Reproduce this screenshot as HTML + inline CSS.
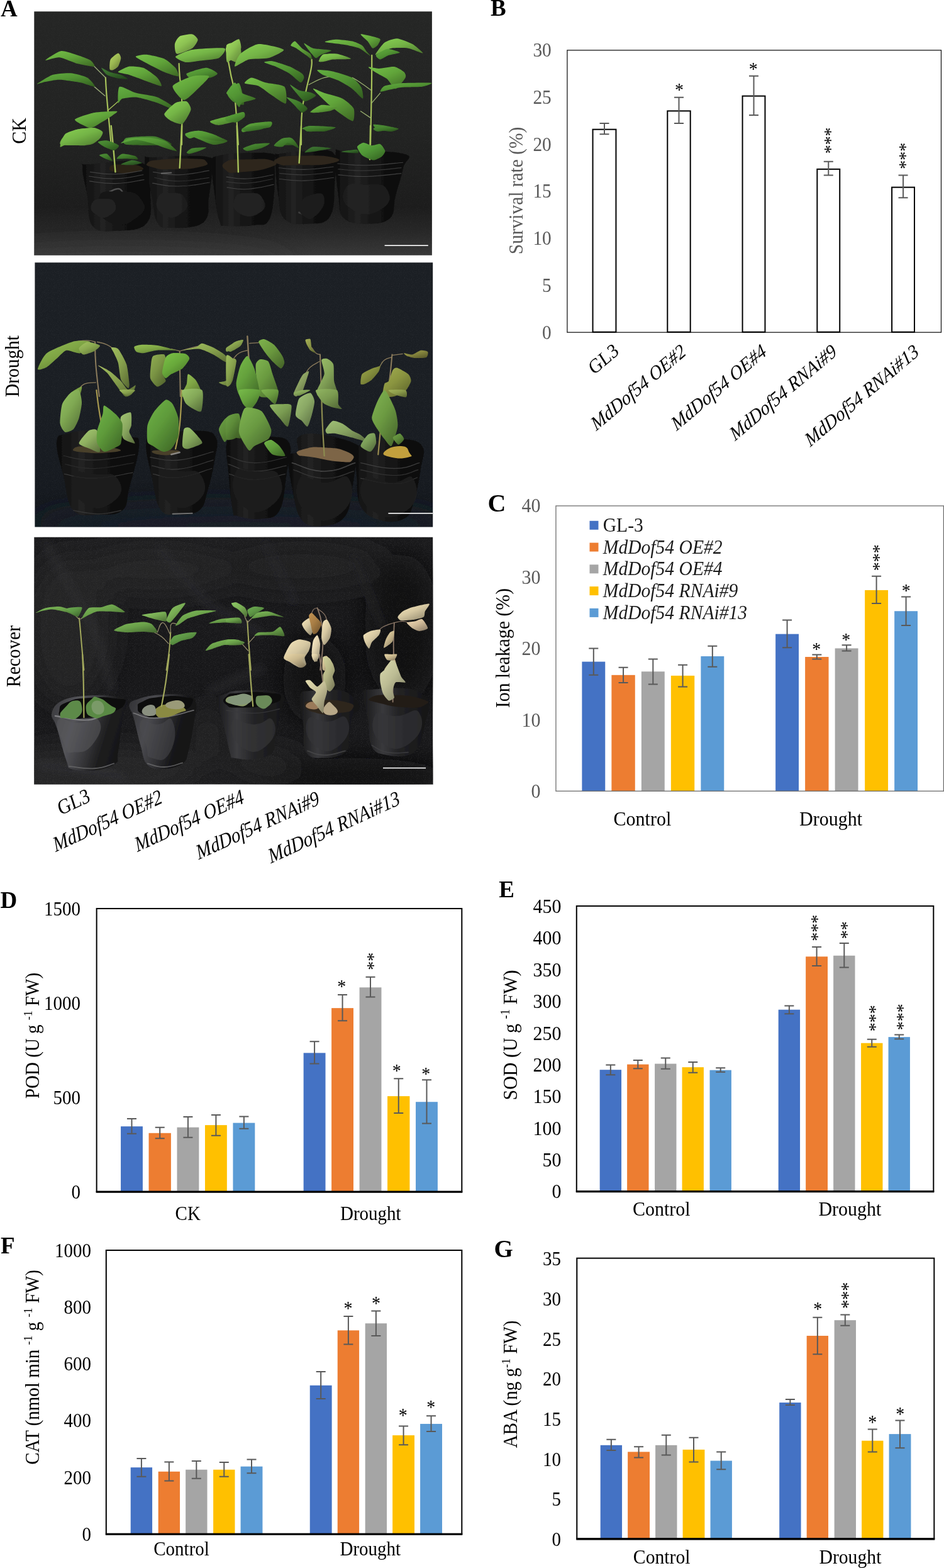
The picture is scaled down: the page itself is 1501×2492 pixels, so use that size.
<!DOCTYPE html>
<html lang="en"><head><meta charset="utf-8"><title>Figure</title>
<style>
html,body{margin:0;padding:0;background:#fff;}
body{width:1501px;height:2492px;overflow:hidden;font-family:"Liberation Serif",serif;}
svg{display:block;}
text{font-family:"Liberation Serif",serif;}
</style></head><body>
<svg width="1501" height="2492" viewBox="0 0 1501 2492">
<text transform="translate(1 26)" font-size="37" fill="#000" text-anchor="start" font-weight="bold">A</text>
<text transform="translate(780 24.8)" font-size="37" fill="#000" text-anchor="start" font-weight="bold">B</text>
<rect x="901.9" y="79.8" width="594.6" height="448.4" fill="#fff" stroke="#1a1a1a" stroke-width="1.3"/>
<rect x="942.54" y="205.68" width="36.91" height="322.02" fill="#fff" stroke="#000" stroke-width="2"/>
<rect x="1061.3" y="176.37" width="36.41" height="351.33" fill="#fff" stroke="#000" stroke-width="2"/>
<rect x="1180.57" y="152.61" width="35.9" height="375.09" fill="#fff" stroke="#000" stroke-width="2"/>
<rect x="1299.34" y="268.85" width="35.9" height="258.85" fill="#fff" stroke="#000" stroke-width="2"/>
<rect x="1418.1" y="297.66" width="35.9" height="230.04" fill="#fff" stroke="#000" stroke-width="2"/>
<path d="M961 196.09V213.27M953.5 196.09H968.5M953.5 213.27H968.5" stroke="#595959" stroke-width="2" fill="none"/>
<path d="M1079.51 154.65V196.09M1072.01 154.65H1087.01M1072.01 196.09H1087.01" stroke="#595959" stroke-width="2" fill="none"/>
<path d="M1198.53 120.79V182.95M1191.03 120.79H1206.03M1191.03 182.95H1206.03" stroke="#595959" stroke-width="2" fill="none"/>
<path d="M1317.29 256.73V278.47M1309.79 256.73H1324.79M1309.79 278.47H1324.79" stroke="#595959" stroke-width="2" fill="none"/>
<path d="M1436.06 278.47V314.35M1428.56 278.47H1443.56M1428.56 314.35H1443.56" stroke="#595959" stroke-width="2" fill="none"/>
<text transform="translate(876.8 90.2) scale(1 1.07)" font-size="29.4" fill="#595959" text-anchor="end">30</text>
<text transform="translate(876.8 164.93) scale(1 1.07)" font-size="29.4" fill="#595959" text-anchor="end">25</text>
<text transform="translate(876.8 239.66) scale(1 1.07)" font-size="29.4" fill="#595959" text-anchor="end">20</text>
<text transform="translate(876.8 314.39) scale(1 1.07)" font-size="29.4" fill="#595959" text-anchor="end">15</text>
<text transform="translate(876.8 389.12) scale(1 1.07)" font-size="29.4" fill="#595959" text-anchor="end">10</text>
<text transform="translate(876.8 463.85) scale(1 1.07)" font-size="29.4" fill="#595959" text-anchor="end">5</text>
<text transform="translate(876.8 538.58) scale(1 1.07)" font-size="29.4" fill="#595959" text-anchor="end">0</text>
<text transform="translate(1080.01 151.59) scale(1 1.07)" font-size="28" fill="#000" text-anchor="middle">*</text>
<text transform="translate(1197.77 119.25) scale(1 1.07)" font-size="28" fill="#000" text-anchor="middle">*</text>
<text transform="translate(1330.15 223.38) rotate(-90) scale(1 1.07)" font-size="28" fill="#000" text-anchor="middle">***</text>
<text transform="translate(1448.92 247.64) rotate(-90) scale(1 1.07)" font-size="28" fill="#000" text-anchor="middle">***</text>
<text transform="translate(831 303) rotate(-90) scale(1 1.07)" font-size="29.4" fill="#595959" text-anchor="middle">Survival rate (%)</text>
<text transform="translate(985.51 561.49) scale(1 1.15) rotate(-36.3)" font-size="28" fill="#000" text-anchor="end">GL3</text>
<text transform="translate(1092.65 563.01) scale(1 1.15) rotate(-36.3)" font-size="28" fill="#000" text-anchor="end"><tspan font-style="italic">MdDof54 OE#2</tspan></text>
<text transform="translate(1220.51 563.01) scale(1 1.15) rotate(-36.3)" font-size="28" fill="#000" text-anchor="end"><tspan font-style="italic">MdDof54 OE#4</tspan></text>
<text transform="translate(1332.2 563.01) scale(1 1.15) rotate(-36.3)" font-size="28" fill="#000" text-anchor="end"><tspan font-style="italic">MdDof54 RNAi#9</tspan></text>
<text transform="translate(1463.09 563.01) scale(1 1.15) rotate(-36.3)" font-size="28" fill="#000" text-anchor="end"><tspan font-style="italic">MdDof54 RNAi#13</tspan></text>
<text transform="translate(775.5 813)" font-size="40" fill="#000" text-anchor="start" font-weight="bold">C</text>
<rect x="925.37" y="1051.61" width="36.89" height="205.69" fill="#4472C4"/>
<rect x="972.37" y="1072.83" width="37.4" height="184.46" fill="#ED7D31"/>
<rect x="1019.87" y="1067.27" width="36.89" height="190.02" fill="#A5A5A5"/>
<rect x="1066.87" y="1073.84" width="37.4" height="183.45" fill="#FFC000"/>
<rect x="1114.38" y="1043.01" width="36.89" height="214.28" fill="#5B9BD5"/>
<rect x="1233.15" y="1007.64" width="36.89" height="249.66" fill="#4472C4"/>
<rect x="1280.15" y="1044.02" width="37.4" height="213.27" fill="#ED7D31"/>
<rect x="1327.65" y="1030.38" width="36.89" height="226.92" fill="#A5A5A5"/>
<rect x="1375.16" y="937.89" width="36.89" height="319.4" fill="#FFC000"/>
<rect x="1422.16" y="971.25" width="36.89" height="286.05" fill="#5B9BD5"/>
<rect x="883.93" y="803.97" width="616.47" height="453.33" fill="none" stroke="#6e6e6e" stroke-width="1.3"/>
<path d="M943.81 1030.38V1072.83M936.31 1030.38H951.31M936.31 1072.83H951.31" stroke="#595959" stroke-width="2" fill="none"/>
<path d="M991.07 1060.7V1084.96M983.57 1060.7H998.57M983.57 1084.96H998.57" stroke="#595959" stroke-width="2" fill="none"/>
<path d="M1038.32 1047.56V1087.49M1030.82 1047.56H1045.82M1030.82 1087.49H1045.82" stroke="#595959" stroke-width="2" fill="none"/>
<path d="M1085.57 1056.66V1091.53M1078.07 1056.66H1093.07M1078.07 1091.53H1093.07" stroke="#595959" stroke-width="2" fill="none"/>
<path d="M1132.83 1026.84V1059.69M1125.33 1026.84H1140.33M1125.33 1059.69H1140.33" stroke="#595959" stroke-width="2" fill="none"/>
<path d="M1251.59 985.4V1029.37M1244.09 985.4H1259.09M1244.09 1029.37H1259.09" stroke="#595959" stroke-width="2" fill="none"/>
<path d="M1298.85 1040.49V1047.56M1291.35 1040.49H1306.35M1291.35 1047.56H1306.35" stroke="#595959" stroke-width="2" fill="none"/>
<path d="M1346.1 1025.33V1034.42M1338.6 1025.33H1353.6M1338.6 1034.42H1353.6" stroke="#595959" stroke-width="2" fill="none"/>
<path d="M1393.6 915.66V959.12M1386.1 915.66H1401.1M1386.1 959.12H1401.1" stroke="#595959" stroke-width="2" fill="none"/>
<path d="M1440.6 948.51V993.99M1433.1 948.51H1448.1M1433.1 993.99H1448.1" stroke="#595959" stroke-width="2" fill="none"/>
<text transform="translate(859.5 814.49) scale(1 1.06)" font-size="30" fill="#595959" text-anchor="end">40</text>
<text transform="translate(859.5 928.21) scale(1 1.06)" font-size="30" fill="#595959" text-anchor="end">30</text>
<text transform="translate(859.5 1041.41) scale(1 1.06)" font-size="30" fill="#595959" text-anchor="end">20</text>
<text transform="translate(859.5 1154.62) scale(1 1.06)" font-size="30" fill="#595959" text-anchor="end">10</text>
<text transform="translate(859.5 1267.82) scale(1 1.06)" font-size="30" fill="#595959" text-anchor="end">0</text>
<text transform="translate(1298.34 1040.84) scale(1 1.06)" font-size="28" fill="#000" text-anchor="middle">*</text>
<text transform="translate(1345.34 1025.67) scale(1 1.06)" font-size="28" fill="#000" text-anchor="middle">*</text>
<text transform="translate(1406.84 886.35) rotate(-90) scale(1 1.06)" font-size="28" fill="#000" text-anchor="middle">***</text>
<text transform="translate(1440.86 948.35) scale(1 1.06)" font-size="28" fill="#000" text-anchor="middle">*</text>
<text transform="translate(809.5 1030) rotate(-90) scale(1 1.06)" font-size="29.8" fill="#000" text-anchor="middle">Ion leakage (%)</text>
<text transform="translate(1021.39 1312.38) scale(1 1.06)" font-size="30" fill="#000" text-anchor="middle">Control</text>
<text transform="translate(1321.08 1312.38) scale(1 1.06)" font-size="30" fill="#000" text-anchor="middle">Drought</text>
<rect x="937.5" y="827.8" width="14" height="14" fill="#4472C4"/>
<text transform="translate(958.72 844.8) scale(1 1.06)" font-size="29.6" fill="#1a1a1a" text-anchor="start">GL-3</text>
<rect x="937.5" y="862.57" width="14" height="14" fill="#ED7D31"/>
<text transform="translate(958.72 879.57) scale(1 1.06)" font-size="29.6" fill="#1a1a1a" text-anchor="start" font-style="italic">MdDof54 OE#2</text>
<rect x="937.5" y="897.34" width="14" height="14" fill="#A5A5A5"/>
<text transform="translate(958.72 914.34) scale(1 1.06)" font-size="29.6" fill="#1a1a1a" text-anchor="start" font-style="italic">MdDof54 OE#4</text>
<rect x="937.5" y="932.11" width="14" height="14" fill="#FFC000"/>
<text transform="translate(958.72 949.11) scale(1 1.06)" font-size="29.6" fill="#1a1a1a" text-anchor="start" font-style="italic">MdDof54 RNAi#9</text>
<rect x="937.5" y="966.88" width="14" height="14" fill="#5B9BD5"/>
<text transform="translate(958.72 983.88) scale(1 1.06)" font-size="29.6" fill="#1a1a1a" text-anchor="start" font-style="italic">MdDof54 RNAi#13</text>
<text transform="translate(0.5 1443)" font-size="37" fill="#000" text-anchor="start" font-weight="bold">D</text>
<rect x="192.05" y="1790.16" width="34.87" height="103.6" fill="#4472C4"/>
<rect x="236.52" y="1800.77" width="35.38" height="92.99" fill="#ED7D31"/>
<rect x="281.5" y="1791.67" width="34.87" height="102.09" fill="#A5A5A5"/>
<rect x="325.97" y="1788.13" width="34.87" height="105.62" fill="#FFC000"/>
<rect x="370.45" y="1784.6" width="34.87" height="109.16" fill="#5B9BD5"/>
<rect x="482.64" y="1673.41" width="34.87" height="220.35" fill="#4472C4"/>
<rect x="527.11" y="1602.15" width="34.87" height="291.61" fill="#ED7D31"/>
<rect x="571.59" y="1569.3" width="34.87" height="324.46" fill="#A5A5A5"/>
<rect x="616.06" y="1742.14" width="35.38" height="151.61" fill="#FFC000"/>
<rect x="661.04" y="1751.24" width="34.87" height="142.52" fill="#5B9BD5"/>
<rect x="153.64" y="1443.97" width="580.68" height="449.79" fill="none" stroke="#000" stroke-width="2"/>
<rect x="152.64" y="1892.76" width="582.68" height="3" fill="#000"/>
<path d="M209.48 1778.03V1801.78M201.98 1778.03H216.98M201.98 1801.78H216.98" stroke="#595959" stroke-width="2" fill="none"/>
<path d="M254.21 1791.67V1809.36M246.71 1791.67H261.71M246.71 1809.36H261.71" stroke="#595959" stroke-width="2" fill="none"/>
<path d="M298.93 1774.99V1807.84M291.43 1774.99H306.43M291.43 1807.84H306.43" stroke="#595959" stroke-width="2" fill="none"/>
<path d="M343.41 1771.96V1804.81M335.91 1771.96H350.91M335.91 1804.81H350.91" stroke="#595959" stroke-width="2" fill="none"/>
<path d="M387.88 1774.49V1793.69M380.38 1774.49H395.38M380.38 1793.69H395.38" stroke="#595959" stroke-width="2" fill="none"/>
<path d="M500.08 1655.22V1690.59M492.58 1655.22H507.58M492.58 1690.59H507.58" stroke="#595959" stroke-width="2" fill="none"/>
<path d="M544.55 1580.93V1622.37M537.05 1580.93H552.05M537.05 1622.37H552.05" stroke="#595959" stroke-width="2" fill="none"/>
<path d="M589.02 1552.63V1584.46M581.52 1552.63H596.52M581.52 1584.46H596.52" stroke="#595959" stroke-width="2" fill="none"/>
<path d="M633.75 1714.35V1768.93M626.25 1714.35H641.25M626.25 1768.93H641.25" stroke="#595959" stroke-width="2" fill="none"/>
<path d="M678.48 1716.37V1785.61M670.98 1716.37H685.98M670.98 1785.61H685.98" stroke="#595959" stroke-width="2" fill="none"/>
<text transform="translate(128 1454.88) scale(1 1.08)" font-size="29" fill="#000" text-anchor="end">1500</text>
<text transform="translate(128 1604.98) scale(1 1.08)" font-size="29" fill="#000" text-anchor="end">1000</text>
<text transform="translate(128 1755.08) scale(1 1.08)" font-size="29" fill="#000" text-anchor="end">500</text>
<text transform="translate(128 1904.67) scale(1 1.08)" font-size="29" fill="#000" text-anchor="end">0</text>
<text transform="translate(543.29 1577.06) scale(1 1.08)" font-size="28" fill="#000" text-anchor="middle">*</text>
<text transform="translate(603.09 1527.86) rotate(-90) scale(1 1.08)" font-size="28" fill="#000" text-anchor="middle">**</text>
<text transform="translate(630.72 1711.49) scale(1 1.08)" font-size="28" fill="#000" text-anchor="middle">*</text>
<text transform="translate(677.21 1715.53) scale(1 1.08)" font-size="28" fill="#000" text-anchor="middle">*</text>
<text transform="translate(62 1646) rotate(-90) scale(1 1.08)" font-size="29" fill="#000" text-anchor="middle">POD (U g <tspan font-size="17.98" dy="-10.44">-1</tspan><tspan dy="10.44"> FW)</tspan></text>
<text transform="translate(298.68 1939.24) scale(1 1.08)" font-size="29" fill="#000" text-anchor="middle">CK</text>
<text transform="translate(589.28 1939.24) scale(1 1.08)" font-size="29" fill="#000" text-anchor="middle">Drought</text>
<text transform="translate(793.3 1425.6)" font-size="37" fill="#000" text-anchor="start" font-weight="bold">E</text>
<rect x="953.67" y="1700.2" width="34.37" height="193.06" fill="#4472C4"/>
<rect x="997.13" y="1691.61" width="34.37" height="201.65" fill="#ED7D31"/>
<rect x="1041.1" y="1690.59" width="34.37" height="202.66" fill="#A5A5A5"/>
<rect x="1084.56" y="1696.15" width="34.37" height="197.1" fill="#FFC000"/>
<rect x="1128.53" y="1700.7" width="34.37" height="192.55" fill="#5B9BD5"/>
<rect x="1237.69" y="1604.68" width="34.37" height="288.57" fill="#4472C4"/>
<rect x="1281.16" y="1520.28" width="34.87" height="372.97" fill="#ED7D31"/>
<rect x="1325.13" y="1518.76" width="34.37" height="374.49" fill="#A5A5A5"/>
<rect x="1369.09" y="1657.74" width="34.37" height="235.51" fill="#FFC000"/>
<rect x="1412.56" y="1648.14" width="34.37" height="245.11" fill="#5B9BD5"/>
<rect x="916.78" y="1439.93" width="567.54" height="453.33" fill="none" stroke="#000" stroke-width="2"/>
<rect x="915.78" y="1892.25" width="569.54" height="3" fill="#000"/>
<path d="M970.85 1692.62V1708.28M963.35 1692.62H978.35M963.35 1708.28H978.35" stroke="#595959" stroke-width="2" fill="none"/>
<path d="M1014.31 1685.04V1698.18M1006.81 1685.04H1021.81M1006.81 1698.18H1021.81" stroke="#595959" stroke-width="2" fill="none"/>
<path d="M1058.28 1681.5V1698.68M1050.78 1681.5H1065.78M1050.78 1698.68H1065.78" stroke="#595959" stroke-width="2" fill="none"/>
<path d="M1101.75 1688.07V1704.75M1094.25 1688.07H1109.25M1094.25 1704.75H1109.25" stroke="#595959" stroke-width="2" fill="none"/>
<path d="M1145.71 1697.16V1703.73M1138.21 1697.16H1153.21M1138.21 1703.73H1153.21" stroke="#595959" stroke-width="2" fill="none"/>
<path d="M1254.88 1598.62V1611.25M1247.38 1598.62H1262.38M1247.38 1611.25H1262.38" stroke="#595959" stroke-width="2" fill="none"/>
<path d="M1298.59 1505.12V1534.94M1291.09 1505.12H1306.09M1291.09 1534.94H1306.09" stroke="#595959" stroke-width="2" fill="none"/>
<path d="M1342.31 1499.05V1537.46M1334.81 1499.05H1349.81M1334.81 1537.46H1349.81" stroke="#595959" stroke-width="2" fill="none"/>
<path d="M1386.28 1651.68V1663.81M1378.78 1651.68H1393.78M1378.78 1663.81H1393.78" stroke="#595959" stroke-width="2" fill="none"/>
<path d="M1429.74 1644.61V1651.18M1422.24 1644.61H1437.24M1422.24 1651.18H1437.24" stroke="#595959" stroke-width="2" fill="none"/>
<text transform="translate(892.4 1451.05) scale(1 1.07)" font-size="30" fill="#000" text-anchor="end">450</text>
<text transform="translate(892.4 1501.42) scale(1 1.07)" font-size="30" fill="#000" text-anchor="end">400</text>
<text transform="translate(892.4 1551.79) scale(1 1.07)" font-size="30" fill="#000" text-anchor="end">350</text>
<text transform="translate(892.4 1602.16) scale(1 1.07)" font-size="30" fill="#000" text-anchor="end">300</text>
<text transform="translate(892.4 1652.54) scale(1 1.07)" font-size="30" fill="#000" text-anchor="end">250</text>
<text transform="translate(892.4 1702.91) scale(1 1.07)" font-size="30" fill="#000" text-anchor="end">200</text>
<text transform="translate(892.4 1753.28) scale(1 1.07)" font-size="30" fill="#000" text-anchor="end">150</text>
<text transform="translate(892.4 1803.65) scale(1 1.07)" font-size="30" fill="#000" text-anchor="end">100</text>
<text transform="translate(892.4 1854.02) scale(1 1.07)" font-size="30" fill="#000" text-anchor="end">50</text>
<text transform="translate(892.4 1904.39) scale(1 1.07)" font-size="30" fill="#000" text-anchor="end">0</text>
<text transform="translate(1308.93 1474.8) rotate(-90) scale(1 1.07)" font-size="28" fill="#000" text-anchor="middle">***</text>
<text transform="translate(1356.43 1478.33) rotate(-90) scale(1 1.07)" font-size="28" fill="#000" text-anchor="middle">**</text>
<text transform="translate(1400.91 1618.33) rotate(-90) scale(1 1.07)" font-size="28" fill="#000" text-anchor="middle">***</text>
<text transform="translate(1444.88 1616.3) rotate(-90) scale(1 1.07)" font-size="28" fill="#000" text-anchor="middle">***</text>
<text transform="translate(822 1645) rotate(-90) scale(1 1.07)" font-size="30" fill="#000" text-anchor="middle">SOD (U g <tspan font-size="18.6" dy="-10.8">-1</tspan><tspan dy="10.8"> FW)</tspan></text>
<text transform="translate(1051.71 1931.66) scale(1 1.07)" font-size="30" fill="#000" text-anchor="middle">Control</text>
<text transform="translate(1351.4 1931.66) scale(1 1.07)" font-size="30" fill="#000" text-anchor="middle">Drought</text>
<text transform="translate(0.9 1992)" font-size="37" fill="#000" text-anchor="start" font-weight="bold">F</text>
<rect x="207.71" y="2332.18" width="34.37" height="105.62" fill="#4472C4"/>
<rect x="251.68" y="2338.75" width="34.37" height="99.05" fill="#ED7D31"/>
<rect x="295.14" y="2335.71" width="34.37" height="102.09" fill="#A5A5A5"/>
<rect x="339.11" y="2335.71" width="34.37" height="102.09" fill="#FFC000"/>
<rect x="382.57" y="2330.66" width="34.87" height="107.14" fill="#5B9BD5"/>
<rect x="492.75" y="2201.79" width="34.87" height="236.01" fill="#4472C4"/>
<rect x="536.72" y="2114.36" width="34.37" height="323.44" fill="#ED7D31"/>
<rect x="580.68" y="2103.24" width="34.37" height="334.56" fill="#A5A5A5"/>
<rect x="624.15" y="2281.13" width="34.87" height="156.67" fill="#FFC000"/>
<rect x="668.12" y="2262.94" width="34.87" height="174.86" fill="#5B9BD5"/>
<rect x="168.8" y="1987" width="565.52" height="450.8" fill="none" stroke="#000" stroke-width="2"/>
<rect x="167.8" y="2436.8" width="567.52" height="3" fill="#000"/>
<path d="M224.9 2318.03V2346.83M217.4 2318.03H232.4M217.4 2346.83H232.4" stroke="#595959" stroke-width="2" fill="none"/>
<path d="M268.86 2323.59V2353.4M261.36 2323.59H276.36M261.36 2353.4H276.36" stroke="#595959" stroke-width="2" fill="none"/>
<path d="M312.33 2322.07V2349.87M304.83 2322.07H319.83M304.83 2349.87H319.83" stroke="#595959" stroke-width="2" fill="none"/>
<path d="M356.29 2324.09V2346.83M348.79 2324.09H363.79M348.79 2346.83H363.79" stroke="#595959" stroke-width="2" fill="none"/>
<path d="M400.01 2319.54V2341.27M392.51 2319.54H407.51M392.51 2341.27H407.51" stroke="#595959" stroke-width="2" fill="none"/>
<path d="M510.18 2180.06V2223.01M502.68 2180.06H517.68M502.68 2223.01H517.68" stroke="#595959" stroke-width="2" fill="none"/>
<path d="M553.9 2092.12V2136.59M546.4 2092.12H561.4M546.4 2136.59H561.4" stroke="#595959" stroke-width="2" fill="none"/>
<path d="M597.87 2083.53V2122.95M590.37 2083.53H605.37M590.37 2122.95H605.37" stroke="#595959" stroke-width="2" fill="none"/>
<path d="M641.58 2266.48V2296.29M634.08 2266.48H649.08M634.08 2296.29H649.08" stroke="#595959" stroke-width="2" fill="none"/>
<path d="M685.55 2250.3V2275.07M678.05 2250.3H693.05M678.05 2275.07H693.05" stroke="#595959" stroke-width="2" fill="none"/>
<text transform="translate(145 1997.96) scale(1 1.09)" font-size="29" fill="#000" text-anchor="end">1000</text>
<text transform="translate(145 2088.12) scale(1 1.09)" font-size="29" fill="#000" text-anchor="end">800</text>
<text transform="translate(145 2178.28) scale(1 1.09)" font-size="29" fill="#000" text-anchor="end">600</text>
<text transform="translate(145 2268.44) scale(1 1.09)" font-size="29" fill="#000" text-anchor="end">400</text>
<text transform="translate(145 2358.6) scale(1 1.09)" font-size="29" fill="#000" text-anchor="end">200</text>
<text transform="translate(145 2448.76) scale(1 1.09)" font-size="29" fill="#000" text-anchor="end">0</text>
<text transform="translate(553.39 2089.83) scale(1 1.09)" font-size="28" fill="#000" text-anchor="middle">*</text>
<text transform="translate(597.87 2082.25) scale(1 1.09)" font-size="28" fill="#000" text-anchor="middle">*</text>
<text transform="translate(640.82 2260.15) scale(1 1.09)" font-size="28" fill="#000" text-anchor="middle">*</text>
<text transform="translate(685.3 2246.5) scale(1 1.09)" font-size="28" fill="#000" text-anchor="middle">*</text>
<text transform="translate(62 2173) rotate(-90) scale(1 1.09)" font-size="29" fill="#000" text-anchor="middle">CAT (nmol min <tspan font-size="17.98" dy="-10.44">-1</tspan><tspan dy="10.44"> g </tspan><tspan font-size="17.98" dy="-10.44">-1</tspan><tspan dy="10.44">  FW)</tspan></text>
<text transform="translate(288.57 2471.66) scale(1 1.09)" font-size="29" fill="#000" text-anchor="middle">Control</text>
<text transform="translate(588.77 2471.66) scale(1 1.09)" font-size="29" fill="#000" text-anchor="middle">Drought</text>
<text transform="translate(785.5 1998.3)" font-size="39" fill="#000" text-anchor="start" font-weight="bold">G</text>
<rect x="954.68" y="2296.8" width="34.37" height="148.58" fill="#4472C4"/>
<rect x="998.14" y="2307.41" width="34.87" height="137.97" fill="#ED7D31"/>
<rect x="1042.11" y="2296.8" width="34.37" height="148.58" fill="#A5A5A5"/>
<rect x="1085.57" y="2303.88" width="34.87" height="141.51" fill="#FFC000"/>
<rect x="1129.54" y="2321.56" width="34.37" height="123.82" fill="#5B9BD5"/>
<rect x="1239.21" y="2229.08" width="34.37" height="216.3" fill="#4472C4"/>
<rect x="1282.67" y="2122.95" width="34.37" height="322.43" fill="#ED7D31"/>
<rect x="1326.64" y="2098.18" width="34.37" height="347.2" fill="#A5A5A5"/>
<rect x="1370.1" y="2289.72" width="34.37" height="155.66" fill="#FFC000"/>
<rect x="1413.57" y="2279.11" width="34.87" height="166.27" fill="#5B9BD5"/>
<rect x="917.28" y="1999.64" width="568.05" height="445.75" fill="none" stroke="#000" stroke-width="2"/>
<rect x="916.28" y="2444.38" width="570.05" height="3.2" fill="#000"/>
<path d="M971.86 2287.7V2304.89M964.36 2287.7H979.36M964.36 2304.89H979.36" stroke="#595959" stroke-width="2" fill="none"/>
<path d="M1015.58 2299.33V2316.51M1008.08 2299.33H1023.08M1008.08 2316.51H1023.08" stroke="#595959" stroke-width="2" fill="none"/>
<path d="M1059.29 2280.63V2312.47M1051.79 2280.63H1066.79M1051.79 2312.47H1066.79" stroke="#595959" stroke-width="2" fill="none"/>
<path d="M1103.01 2284.67V2323.59M1095.51 2284.67H1110.51M1095.51 2323.59H1110.51" stroke="#595959" stroke-width="2" fill="none"/>
<path d="M1146.73 2307.41V2335.21M1139.23 2307.41H1154.23M1139.23 2335.21H1154.23" stroke="#595959" stroke-width="2" fill="none"/>
<path d="M1256.39 2224.02V2233.12M1248.89 2224.02H1263.89M1248.89 2233.12H1263.89" stroke="#595959" stroke-width="2" fill="none"/>
<path d="M1299.86 2093.64V2152.26M1292.36 2093.64H1307.36M1292.36 2152.26H1307.36" stroke="#595959" stroke-width="2" fill="none"/>
<path d="M1343.82 2089.59V2106.78M1336.32 2089.59H1351.32M1336.32 2106.78H1351.32" stroke="#595959" stroke-width="2" fill="none"/>
<path d="M1387.29 2271.53V2307.41M1379.79 2271.53H1394.79M1379.79 2307.41H1394.79" stroke="#595959" stroke-width="2" fill="none"/>
<path d="M1431 2257.38V2301.35M1423.5 2257.38H1438.5M1423.5 2301.35H1438.5" stroke="#595959" stroke-width="2" fill="none"/>
<text transform="translate(892 2011.4) scale(1 1.09)" font-size="29" fill="#000" text-anchor="end">35</text>
<text transform="translate(892 2075.08) scale(1 1.09)" font-size="29" fill="#000" text-anchor="end">30</text>
<text transform="translate(892 2138.75) scale(1 1.09)" font-size="29" fill="#000" text-anchor="end">25</text>
<text transform="translate(892 2202.43) scale(1 1.09)" font-size="29" fill="#000" text-anchor="end">20</text>
<text transform="translate(892 2266.11) scale(1 1.09)" font-size="29" fill="#000" text-anchor="end">15</text>
<text transform="translate(892 2329.79) scale(1 1.09)" font-size="29" fill="#000" text-anchor="end">10</text>
<text transform="translate(892 2393.47) scale(1 1.09)" font-size="29" fill="#000" text-anchor="end">5</text>
<text transform="translate(892 2457.15) scale(1 1.09)" font-size="29" fill="#000" text-anchor="end">0</text>
<text transform="translate(1300.36 2090.84) scale(1 1.09)" font-size="28" fill="#000" text-anchor="middle">*</text>
<text transform="translate(1359.23 2058.76) rotate(-90) scale(1 1.09)" font-size="28" fill="#000" text-anchor="middle">***</text>
<text transform="translate(1387.29 2270.76) scale(1 1.09)" font-size="28" fill="#000" text-anchor="middle">*</text>
<text transform="translate(1431.26 2258.12) scale(1 1.09)" font-size="28" fill="#000" text-anchor="middle">*</text>
<text transform="translate(822 2200) rotate(-90) scale(1 1.09)" font-size="29" fill="#000" text-anchor="middle">ABA (ng g<tspan font-size="17.98" dy="-10.44">-1</tspan><tspan dy="10.44"> FW)</tspan></text>
<text transform="translate(1052.22 2485.31) scale(1 1.09)" font-size="29.7" fill="#000" text-anchor="middle">Control</text>
<text transform="translate(1351.91 2485.31) scale(1 1.09)" font-size="29.7" fill="#000" text-anchor="middle">Drought</text>
<defs>
<filter id="soft" x="-2%" y="-2%" width="104%" height="104%"><feGaussianBlur stdDeviation="0.7"/></filter>
<filter id="soft2" filterUnits="userSpaceOnUse" x="-100" y="-100" width="1000" height="1600"><feGaussianBlur stdDeviation="22"/></filter>
<filter id="soft3" filterUnits="userSpaceOnUse" x="-100" y="-100" width="1000" height="1600"><feGaussianBlur stdDeviation="7"/></filter>
<filter id="grain" x="0" y="0" width="100%" height="100%"><feTurbulence type="fractalNoise" baseFrequency="0.9" numOctaves="2" seed="3" result="n"/><feColorMatrix in="n" type="matrix" values="0 0 0 0 1  0 0 0 0 1  0 0 0 0 1  0.9 0 0 0 -0.42"/></filter>
<clipPath id="cA"><rect x="54.3" y="18.2" width="632.6" height="387.6"/></clipPath>
<clipPath id="cB"><rect x="55.4" y="417.2" width="632.8" height="420.4"/></clipPath>
<clipPath id="cC"><rect x="54.3" y="853.8" width="633.9" height="392.8"/></clipPath>
<linearGradient id="gA" x1="0" y1="0" x2="0" y2="1"><stop offset="0" stop-color="#252625"/><stop offset="0.5" stop-color="#222322"/><stop offset="0.8" stop-color="#1c1c1c"/><stop offset="0.9" stop-color="#272727"/><stop offset="1" stop-color="#383838"/></linearGradient>
<linearGradient id="gB" x1="0" y1="0" x2="0" y2="1"><stop offset="0" stop-color="#1b1f24"/><stop offset="0.5" stop-color="#1a1e23"/><stop offset="1" stop-color="#14181e"/></linearGradient>
<linearGradient id="gC" x1="0" y1="0" x2="0" y2="1"><stop offset="0" stop-color="#1c1c1e"/><stop offset="0.55" stop-color="#171719"/><stop offset="1" stop-color="#1b1b1d"/></linearGradient>
</defs>
<g clip-path="url(#cA)">
<rect x="54" y="18" width="634" height="389" fill="url(#gA)"/>
<g filter="url(#soft)">
<g filter="url(#soft2)"><ellipse cx="200" cy="425" rx="260" ry="30" fill="#3c3c3c" opacity="0.5"/></g>
<rect x="54" y="18" width="634" height="389" filter="url(#grain)" opacity="0.10"/>
<path d="M131.17 266.71C132.05 256.7 124.05 262.49 143.4 261.15C162.74 259.82 208.77 250.03 227.9 260.04C247.02 270.05 238.13 292.06 239.01 311.19C239.9 330.31 242.57 344.54 232.34 355.66C222.11 366.78 204.77 365.89 187.87 366.78C170.97 367.67 157.63 371.23 147.84 360.11C138.06 348.99 142.28 329.86 138.95 311.19C135.61 292.51 130.28 276.72 131.17 266.71Z" fill="url(#g0)"/>
<path d="M230.12 255.59C231.01 243.36 226.12 251.37 245.69 250.03C265.25 248.7 309.73 245.59 327.96 248.92C346.2 252.26 335.97 254.26 336.86 266.71C337.75 279.16 335.08 293.84 332.41 311.19C329.74 328.53 335.52 343.21 323.52 353.44C311.51 363.66 287.05 362.33 272.37 362.33C257.69 362.33 256.36 363.66 250.13 353.44C243.91 343.21 245.24 330.75 241.24 311.19C237.24 291.62 229.23 267.82 230.12 255.59Z" fill="url(#g0)"/>
<path d="M336.65 257.82C337.99 247.36 337.54 250.7 346.66 247.81C355.77 244.92 364.89 244.03 382.24 243.36C399.58 242.7 422.49 241.58 433.38 244.47C444.28 247.36 436.27 244.47 436.72 257.82C437.16 271.16 437.61 292.51 435.61 311.19C433.6 329.86 432.94 341.87 426.71 351.21C420.48 360.55 417.82 356.33 404.47 357.88C391.13 359.44 371.12 360.33 360 358.99C348.88 357.66 352.88 363 348.88 351.21C344.88 339.43 342.43 318.75 339.99 300.07C337.54 281.39 335.32 268.27 336.65 257.82Z" fill="url(#g0)"/>
<path d="M437.83 251.15C438.27 237.8 433.38 246.7 444.5 244.47C455.62 242.25 476.08 240.03 493.42 240.03C510.77 240.03 523.44 234.69 531.23 244.47C539.01 254.26 533.67 268.93 532.34 288.95C531 308.96 533.23 331.2 524.55 344.54C515.88 357.88 503.21 354.77 488.97 355.66C474.74 356.55 462.74 357.88 453.4 348.99C444.06 340.09 445.39 330.75 442.28 311.19C439.16 291.62 437.38 264.49 437.83 251.15Z" fill="url(#g0)"/>
<path d="M533.45 244.47C535.67 230.24 527.22 240.03 549.01 240.03C570.81 240.03 623.95 239.14 642.41 244.47C660.87 249.81 643.97 253.37 641.3 266.71C638.63 280.05 633.29 295.17 629.07 311.19C624.84 327.2 629.51 337.87 620.17 346.76C610.83 355.66 597.05 355.66 582.37 355.66C567.69 355.66 555.69 355.66 546.79 346.76C537.9 337.87 540.56 331.64 537.9 311.19C535.23 290.73 531.23 258.71 533.45 244.47Z" fill="url(#g0)"/>
<path d="M234.57 258.93C239.24 254.93 239.9 255.37 261.25 253.37C282.6 251.37 285.71 251.26 305.73 252.26C325.74 253.26 324.63 252.7 327.96 256.7C331.3 260.71 333.52 261.93 316.84 265.6C300.17 269.27 293.72 268.6 272.37 268.93C251.02 269.27 257.03 269.71 245.69 266.71C234.35 263.71 229.9 262.93 234.57 258.93Z" fill="#2e261c"/>
<path d="M174.53 265.6C176.53 261.6 179.86 261.49 194.54 261.15C209.22 260.82 216.11 261.15 223.45 264.49C230.79 267.82 229.68 269.27 219 272.27C208.33 275.27 201.21 276.5 187.87 274.49C174.53 272.49 172.53 269.6 174.53 265.6Z" fill="#2a2318"/>
<path d="M360 256.7C370.01 251.37 371.34 253.7 393.36 253.37C415.37 253.04 423.38 251.59 433.38 255.59C443.39 259.6 442.05 261.37 426.71 266.71C411.37 272.05 402.25 272.05 382.24 273.38C362.22 274.72 366.67 276.16 360 271.16C353.33 266.16 349.99 262.04 360 256.7Z" fill="#2f261c"/>
<path d="M440.05 252.26C448.06 248.25 444.5 248.48 471.19 247.81C497.87 247.14 512.99 246.36 529 250.03C545.01 253.7 541.9 256.37 524.55 260.04C507.21 263.71 495.2 261.93 471.19 262.26C447.17 262.6 453.84 264.15 444.5 261.15C435.16 258.15 432.05 256.26 440.05 252.26Z" fill="#2e261c"/>
<path d="M143.4 273.38C153.4 274.22 162.85 277.27 183.42 276.72C203.99 276.16 215.11 272.55 225.67 271.16" fill="none" stroke="#4a4a4a" stroke-width="1.2" stroke-linecap="round" stroke-opacity="0.8"/>
<path d="M174.53 304.51C177.86 303.4 182.87 300.07 187.87 300.07C192.87 300.07 192.87 303.4 194.54 304.51" fill="none" stroke="#6a6a6a" stroke-width="2.5" stroke-linecap="round" stroke-opacity="0.7"/>
<path d="M243.46 273.38C253.47 274.49 261.25 278.39 283.49 277.83C305.73 277.27 320.18 272.83 332.41 271.16" fill="none" stroke="#4a4a4a" stroke-width="1.2" stroke-linecap="round" stroke-opacity="0.8"/>
<path d="M245.69 282.28C255.14 283.67 261.81 287.84 283.49 287.84C305.17 287.84 320.18 283.67 332.41 282.28" fill="none" stroke="#3a3a3a" stroke-width="1.2" stroke-linecap="round" stroke-opacity="0.8"/>
<path d="M256.8 275.61 L272.37 274.49" fill="none" stroke="#8a8a8a" stroke-width="2" stroke-linecap="round" stroke-opacity="0.6"/>
<path d="M360 288.95C368.34 289.5 375.01 292.28 393.36 291.17C411.7 290.06 423.38 286.17 433.38 284.5" fill="none" stroke="#3c3c3c" stroke-width="1.2" stroke-linecap="round" stroke-opacity="0.8"/>
<path d="M444.5 275.61C454.51 276.16 463.4 278.39 484.53 277.83C505.65 277.27 517.88 274.49 529 273.38" fill="none" stroke="#444" stroke-width="1.2" stroke-linecap="round" stroke-opacity="0.8"/>
<path d="M475.63 337.87C480.08 338.98 487.86 343.43 493.42 342.32C498.98 341.21 496.76 335.65 497.87 333.42" fill="none" stroke="#555" stroke-width="3" stroke-linecap="round" stroke-opacity="0.6"/>
<path d="M537.9 268.93C549.01 269.49 557.35 271.71 582.37 271.16C607.39 270.6 624.06 267.82 637.96 266.71" fill="none" stroke="#404040" stroke-width="1.2" stroke-linecap="round" stroke-opacity="0.8"/>
<path d="M477.86 324.53C481.86 313.85 486.53 311.63 497.87 308.96C509.21 306.29 514.33 305.63 515.66 315.63C516.99 325.64 511.66 333.64 502.32 342.32C492.98 350.99 491.87 349.88 484.53 344.54C477.19 339.2 473.85 335.2 477.86 324.53Z" fill="#1c1c1c"/>
<path d="M156.74 315.63C160.74 300.96 167.86 304.51 187.87 304.51C207.88 304.51 214.11 303.62 223.45 315.63C232.79 327.64 233.68 333.2 219 344.54C204.33 355.88 193.21 362.11 174.53 353.44C155.85 344.76 152.74 330.31 156.74 315.63Z" fill="#151515"/>
<path d="M141.17 280.05C151.73 281.05 161.74 284.61 183.42 284.06C205.1 283.5 216.78 279.39 227.9 277.83" fill="none" stroke="#555" stroke-width="1.1" stroke-linecap="round" stroke-opacity="0.7"/>
<path d="M142.28 287.84C152.57 288.78 161.74 292.17 183.42 291.62C205.1 291.06 217.61 287.11 229.01 285.61" fill="none" stroke="#555" stroke-width="1.1" stroke-linecap="round" stroke-opacity="0.7"/>
<path d="M242.35 291.17C252.64 292.39 260.7 296.34 283.49 296.06C306.28 295.79 321.01 291.56 333.52 290.06" fill="none" stroke="#555" stroke-width="1.1" stroke-linecap="round" stroke-opacity="0.7"/>
<path d="M360 281.17C368.34 281.89 374.73 284.89 393.36 284.06C411.98 283.22 424.21 279.39 434.49 277.83" fill="none" stroke="#555" stroke-width="1.1" stroke-linecap="round" stroke-opacity="0.7"/>
<path d="M361.11 297.84C369.17 298.51 374.84 301.62 393.36 300.51C411.87 299.4 424.71 295.17 435.16 293.4" fill="none" stroke="#555" stroke-width="1.1" stroke-linecap="round" stroke-opacity="0.7"/>
<path d="M443.39 266.71C453.67 267.38 462.85 269.82 484.53 269.38C506.21 268.93 518.72 266.04 530.11 264.93" fill="none" stroke="#555" stroke-width="1.1" stroke-linecap="round" stroke-opacity="0.7"/>
<path d="M444.06 284.5C454.17 285.17 462.85 287.73 484.53 287.17C506.21 286.61 519.22 283.5 530.78 282.28" fill="none" stroke="#555" stroke-width="1.1" stroke-linecap="round" stroke-opacity="0.7"/>
<path d="M536.78 260.04C548.18 260.71 556.41 263.15 582.37 262.71C608.33 262.26 626.07 259.37 640.63 258.26" fill="none" stroke="#555" stroke-width="1.1" stroke-linecap="round" stroke-opacity="0.7"/>
<path d="M537.9 277.83C549.01 278.5 557.35 281.05 582.37 280.5C607.39 279.94 624.06 276.83 637.96 275.61" fill="none" stroke="#555" stroke-width="1.1" stroke-linecap="round" stroke-opacity="0.7"/>
<path d="M145.62 324.53C148.95 316.52 154.29 315.63 165.63 315.63C176.97 315.63 180.75 316.52 183.42 324.53C186.09 332.53 183.2 336.98 174.53 342.32C165.86 347.65 163.19 347.65 154.51 342.32C145.84 336.98 142.28 332.53 145.62 324.53Z" fill="#262626" fill-opacity="0.8"/>
<path d="M250.13 315.63C253.47 304.96 259.03 306.74 272.37 306.74C285.71 306.74 289.27 306.29 294.61 315.63C299.94 324.97 300.17 329.86 290.16 337.87C280.15 345.88 273.26 348.99 261.25 342.32C249.24 335.65 246.8 326.31 250.13 315.63Z" fill="#232323" fill-opacity="0.8"/>
<path d="M373.34 315.63C377.34 305.63 382.24 306.74 395.58 306.74C408.92 306.74 412.48 306.29 417.82 315.63C423.15 324.97 424.04 330.53 413.37 337.87C402.7 345.21 394.25 346.76 382.24 340.09C370.23 333.42 369.34 325.64 373.34 315.63Z" fill="#242424" fill-opacity="0.8"/>
<path d="M549.01 300.07C555.69 288.06 562.36 292.73 582.37 293.4C602.38 294.06 609.05 290.28 615.73 302.29C622.4 314.3 621.29 324.08 604.61 333.42C587.93 342.76 576.81 343.43 560.13 333.42C543.46 323.42 542.34 312.07 549.01 300.07Z" fill="#222222" fill-opacity="0.8"/>
<path d="M167.86 123.41C168.13 128.41 168.13 131.75 168.97 143.42C169.8 155.1 169.25 148.48 171.19 170.11C173.14 191.73 175.36 214.97 176.75 229.92" fill="none" stroke="#a7c25a" stroke-width="2.2" stroke-linecap="round"/>
<path d="M176.75 200C177.59 208.34 178.42 215.01 180.09 233.36C181.75 251.7 182.59 263.38 183.42 273.38" fill="none" stroke="#a7c25a" stroke-width="2.4" stroke-linecap="round"/>
<path d="M167.86 123.41 L147.84 103.4" fill="none" stroke="#98a878" stroke-width="1.4" stroke-linecap="round"/>
<path d="M166.74 152.32 L150.07 137.86" fill="none" stroke="#98a878" stroke-width="1.4" stroke-linecap="round"/>
<path d="M171.19 175.67 L187.87 161.21" fill="none" stroke="#a7c25a" stroke-width="1.4" stroke-linecap="round"/>
<path d="M284.6 101.17C284.88 106.18 284.6 107.29 285.71 121.19C286.82 135.08 288.21 129.58 289.05 156.76C289.88 183.95 289.05 211.63 289.05 229.92" fill="none" stroke="#a7c25a" stroke-width="2.2" stroke-linecap="round"/>
<path d="M289.05 200C288.66 208.34 288.33 216.68 287.49 233.36C286.66 250.03 286.16 258.37 285.71 266.71" fill="none" stroke="#a7c25a" stroke-width="2.4" stroke-linecap="round"/>
<path d="M363.34 98.95C364.17 103.4 364.17 102.84 366.67 116.74C369.17 130.64 370.28 126.24 373.34 154.54C376.4 182.84 377.51 211.08 378.9 229.92" fill="none" stroke="#a7c25a" stroke-width="2.2" stroke-linecap="round"/>
<path d="M376.68 200C376.96 208.89 377.23 217.23 377.79 235.58C378.35 253.92 378.62 263.93 378.9 273.38" fill="none" stroke="#a7c25a" stroke-width="2.4" stroke-linecap="round"/>
<path d="M495.65 94.5C495.37 98.39 496.76 97.84 494.53 110.07C492.31 122.3 490.36 126.19 486.75 143.42C483.14 160.66 482.03 157.38 480.08 179C478.13 200.63 479.25 217.19 478.97 229.92" fill="none" stroke="#a7c25a" stroke-width="2.2" stroke-linecap="round"/>
<path d="M478.97 200C478.58 207.23 478.25 214.18 477.41 228.91C476.58 243.64 476.08 251.42 475.63 258.93" fill="none" stroke="#a7c25a" stroke-width="2.4" stroke-linecap="round"/>
<path d="M591.27 87.83C591.15 101.73 591.38 107.9 590.82 143.42C590.26 178.95 589.49 208.3 589.04 229.92" fill="none" stroke="#a7c25a" stroke-width="2.2" stroke-linecap="round"/>
<path d="M589.04 200C588.93 206.67 588.87 213.34 588.6 226.68C588.32 240.03 588.1 246.7 587.93 253.37" fill="none" stroke="#a7c25a" stroke-width="2.4" stroke-linecap="round"/>
<path d="M491.2 134.53C497.31 131.75 503.98 126.74 515.66 123.41C527.33 120.07 532.34 121.74 537.9 121.19" fill="none" stroke="#9ab070" stroke-width="1.3" stroke-linecap="round"/>
<path d="M591.27 163.44 L604.61 147.87" fill="none" stroke="#9ab070" stroke-width="1.3" stroke-linecap="round"/>
<path d="M590.15 143.42C585.43 140.09 578.76 135.08 571.25 130.08C563.75 125.08 562.91 125.08 560.13 123.41" fill="none" stroke="#9ab070" stroke-width="1.3" stroke-linecap="round"/>
<path d="M590.15 187.9 L573.48 176.78" fill="none" stroke="#9ab070" stroke-width="1.3" stroke-linecap="round"/>
<path d="M72.24 95.61C72.48 94.51 91.07 82.01 96.7 81.16C102.32 80.3 118.25 86.24 123.38 87.83C128.52 89.42 140.46 93.66 143.4 95.61C146.33 97.57 152.27 105.01 150.07 105.62C147.87 106.23 129.5 102.76 123.38 101.17C117.27 99.58 100.1 91.78 94.47 91.17C88.85 90.55 71.99 96.71 72.24 95.61Z" fill="url(#g1)"/>
<path d="M58.89 133.42C60.12 132.19 77.48 120.85 83.36 118.96C89.23 117.08 106.15 115.8 112.26 116.29C118.38 116.78 134.67 121.04 138.95 123.41C143.23 125.78 152.4 137.01 151.18 137.86C149.96 138.72 134.07 132.41 127.83 131.19C121.59 129.97 100.59 126.87 94.47 126.74C88.36 126.62 76.15 129.35 72.24 130.08C68.32 130.81 57.67 134.64 58.89 133.42Z" fill="url(#g2)"/>
<path d="M174.53 110.07C174.04 108.23 174.17 97.31 175.64 94.5C177.11 91.69 186.04 84.74 187.87 84.49C189.7 84.25 192.32 89.95 192.32 92.28C192.32 94.6 189.22 103.54 187.87 105.62C186.52 107.7 181.55 110.69 180.09 111.18C178.62 111.67 175.02 111.9 174.53 110.07Z" fill="url(#g3)"/>
<path d="M161.19 107.84C161.67 107.35 171.1 113.29 174.53 114.51C177.95 115.74 189.14 117.74 192.32 118.96C195.5 120.18 203.92 125.02 203.44 125.63C202.95 126.24 191.54 125.25 187.87 124.52C184.2 123.79 173.02 120.8 170.08 118.96C167.14 117.13 160.7 108.33 161.19 107.84Z" fill="url(#g4)"/>
<path d="M187.87 114.51C187.87 113.05 201.26 106.35 205.66 105.62C210.06 104.89 223 105.89 227.9 107.84C232.79 109.8 246.95 120.23 250.13 123.41C253.31 126.59 258.03 135.9 256.8 136.75C255.58 137.61 244.64 133.15 239.01 131.19C233.39 129.24 211.29 120.8 205.66 118.96C200.03 117.13 187.87 115.98 187.87 114.51Z" fill="url(#g1)"/>
<path d="M187.87 163.44C187.38 161.36 186.91 139.58 190.09 137.86C193.27 136.15 210.17 146.04 216.78 147.87C223.38 149.7 243.53 152.09 250.13 154.54C256.74 156.99 273.64 167.78 276.82 170.11C280 172.43 281.98 176.4 279.04 175.67C276.11 174.93 256.98 165.76 250.13 163.44C243.28 161.11 222.89 155.27 216.78 154.54C210.66 153.81 197.72 155.79 194.54 156.76C191.36 157.74 188.36 165.51 187.87 163.44Z" fill="url(#g2)"/>
<path d="M185.65 176.78C182.47 176.29 157.4 177.53 150.07 179C142.73 180.47 119.67 187.43 118.93 190.12C118.2 192.81 138.75 202.97 143.4 203.46C148.04 203.95 157.27 196.77 161.19 194.57C165.1 192.37 176.28 185.41 178.97 183.45C181.67 181.49 188.83 177.27 185.65 176.78Z" fill="url(#g1)"/>
<path d="M96.7 229.92C92.29 228.24 100.43 217.25 103.37 214.58C106.3 211.91 118.25 206.91 123.38 205.69C128.52 204.46 145.91 202.97 150.07 203.46C154.23 203.95 160.45 208.18 161.19 210.13C161.92 212.09 158.69 219.07 156.74 221.25C154.78 223.43 150 228.97 143.4 229.92C136.79 230.88 101.1 231.61 96.7 229.92Z" fill="url(#g5)"/>
<path d="M95.59 233.36C95.34 231.52 100.31 216.4 103.37 213.34C106.43 210.28 118.25 206.66 123.38 205.56C128.52 204.46 145.66 202.85 150.07 203.34C154.47 203.82 162.68 207.93 163.41 210.01C164.14 212.09 159.92 219.91 156.74 222.24C153.56 224.56 140.13 230.28 134.5 231.13C128.87 231.99 109.87 229.78 105.59 230.02C101.31 230.26 95.83 235.19 95.59 233.36Z" fill="url(#g5)"/>
<path d="M155.63 225.57C156.12 224.47 166.41 222.74 170.08 223.35C173.75 223.96 187.76 229.42 188.98 231.13C190.2 232.84 183.77 238.67 181.2 238.91C178.63 239.16 168.45 234.82 165.63 233.36C162.82 231.89 155.14 226.67 155.63 225.57Z" fill="url(#g6)"/>
<path d="M157.85 246.7C157.85 245.72 167.76 243.5 170.08 244.47C172.4 245.45 178.97 254.61 178.97 255.59C178.97 256.57 172.4 254.35 170.08 253.37C167.76 252.39 157.85 247.68 157.85 246.7Z" fill="url(#g6)"/>
<path d="M185.65 252.26C184.91 251.4 191.36 244.96 194.54 244.47C197.72 243.98 211.86 246.83 214.55 247.81C217.24 248.79 220.47 252.88 219 253.37C217.53 253.86 204.88 252.38 201.21 252.26C197.54 252.13 186.38 253.11 185.65 252.26Z" fill="url(#g6)"/>
<path d="M192.32 261.15C192.32 260.3 206.44 254.73 210.11 254.48C213.78 254.24 225.67 258.07 225.67 258.93C225.67 259.78 213.78 262.02 210.11 262.26C206.44 262.51 192.32 262.01 192.32 261.15Z" fill="url(#g4)"/>
<path d="M277.93 70.04C278.42 66.98 282.66 59.52 285.71 57.81C288.77 56.1 302.55 53.86 305.73 54.47C308.91 55.09 314.62 60.92 314.62 63.37C314.62 65.81 309.4 74.27 305.73 76.71C302.06 79.16 284.32 86.34 281.27 85.61C278.21 84.87 277.44 73.1 277.93 70.04Z" fill="url(#g7)"/>
<path d="M215.67 90.05C215.42 88.46 227.33 86.35 232.34 86.72C237.36 87.08 256.12 91.07 261.25 93.39C266.39 95.71 276.6 104.79 279.04 107.84C281.49 110.9 285.45 120.45 283.49 121.19C281.53 121.92 266.63 116.72 261.25 114.51C255.87 112.31 239.58 103.86 234.57 101.17C229.55 98.48 215.91 91.64 215.67 90.05Z" fill="url(#g1)"/>
<path d="M279.04 90.05C280.26 87.85 297.16 80.4 305.73 78.93C314.29 77.47 352.22 75.24 356.87 76.71C361.52 78.18 352.38 90.08 347.98 92.28C343.57 94.48 322.72 95.99 316.84 96.72C310.97 97.46 298.77 99.68 294.61 98.95C290.45 98.21 277.82 92.25 279.04 90.05Z" fill="url(#g5)"/>
<path d="M296.83 116.74C299.28 114.78 322.58 107.84 327.96 107.84C333.34 107.84 345.02 115.03 345.75 116.74C346.49 118.45 339.04 122.43 334.63 123.41C330.23 124.39 309.88 126.37 305.73 125.63C301.57 124.9 294.39 118.69 296.83 116.74Z" fill="url(#g2)"/>
<path d="M274.59 136.75C276.06 132.59 299.37 122.9 305.73 121.19C312.09 119.47 331.19 119.23 332.41 121.19C333.63 123.14 321.25 134.82 316.84 138.97C312.44 143.13 297.03 159.23 292.38 158.99C287.74 158.74 273.13 140.91 274.59 136.75Z" fill="url(#g1)"/>
<path d="M261.25 181.23C261.99 178.05 275.13 165.64 279.04 163.44C282.96 161.23 294.14 159.99 296.83 161.21C299.52 162.43 304.24 170.64 303.5 174.55C302.77 178.47 293.58 194.83 290.16 196.79C286.74 198.75 275.55 194.06 272.37 192.34C269.19 190.63 260.52 184.41 261.25 181.23Z" fill="url(#g5)"/>
<path d="M294.61 212.36C295.83 211.38 309.51 206.69 316.84 207.91C324.18 209.13 358.87 221.05 361.32 223.48C363.76 225.9 345.2 230.66 339.08 229.92C332.97 229.19 310.62 218.74 305.73 216.8C300.83 214.87 293.38 213.34 294.61 212.36Z" fill="url(#g2)"/>
<path d="M201.21 219.03C206.1 217.59 237.86 215.61 245.69 216.8C253.51 218 277.26 228.48 272.37 229.92C267.48 231.37 209.04 231.12 201.21 229.92C193.38 228.73 196.32 220.47 201.21 219.03Z" fill="url(#g6)"/>
<path d="M192.32 227.8C191.09 227.55 200.52 220.99 205.66 220.01C210.8 219.03 232.66 218.41 239.01 218.9C245.37 219.39 258.83 222.14 263.48 224.46C268.12 226.78 281.27 238.8 281.27 240.03C281.27 241.25 267.39 236.8 263.48 235.58C259.56 234.36 250.82 230.38 245.69 228.91C240.55 227.44 222.65 222.36 216.78 222.24C210.91 222.11 193.54 228.04 192.32 227.8Z" fill="url(#g2)"/>
<path d="M294.61 213.34C296.32 212 311.95 207.78 316.84 207.78C321.74 207.78 334.19 211.51 339.08 213.34C343.97 215.18 361.32 223.36 361.32 224.46C361.32 225.56 344.46 224.08 339.08 223.35C333.7 222.62 316.56 218.16 312.4 217.79C308.24 217.42 303.24 220.5 301.28 220.01C299.32 219.52 292.9 214.69 294.61 213.34Z" fill="url(#g2)"/>
<path d="M296.83 242.25C297.32 241.27 302.3 236.44 305.73 235.58C309.15 234.72 326.74 233.98 327.96 234.47C329.19 234.96 319.78 238.93 316.84 240.03C313.91 241.13 303.48 244.23 301.28 244.47C299.08 244.72 296.34 243.23 296.83 242.25Z" fill="url(#g6)"/>
<path d="M359.09 76.71C360.66 73.29 377.31 60.92 380 63.37C382.69 65.81 385.12 95.52 383.56 98.95C381.99 102.37 368.46 96.95 365.77 94.5C363.08 92.05 357.53 80.14 359.09 76.71Z" fill="url(#g7)"/>
<path d="M361.32 147.87C362.39 144.69 377.06 130.35 380 132.3C382.93 134.26 389.08 162.48 388 165.66C386.93 168.84 373.15 163.17 370.21 161.21C367.28 159.26 360.24 151.05 361.32 147.87Z" fill="url(#g2)"/>
<path d="M334.63 192.34C338.16 190.39 374.62 181.47 380 181.23C385.38 180.98 387.08 188.16 383.56 190.12C380.03 192.08 353.36 198.77 347.98 199.01C342.6 199.26 331.11 194.3 334.63 192.34Z" fill="url(#g1)"/>
<path d="M360 72.26C360.98 69.33 366.69 68.92 368.89 67.82C371.1 66.72 378.42 61.28 380.01 62.26C381.6 63.24 384.08 73.65 383.35 76.71C382.62 79.77 375.67 87.61 373.34 90.05C371.02 92.5 363.69 98.46 362.22 98.95C360.76 99.44 360.24 97.44 360 94.5C359.76 91.57 359.02 75.2 360 72.26Z" fill="url(#g7)"/>
<path d="M373.34 105.62C371.87 104.64 378.08 89.52 382.24 85.61C386.4 81.69 403.56 70.77 411.15 70.04C418.73 69.31 449.46 76.49 451.17 78.93C452.88 81.38 432.83 90.56 426.71 92.28C420.6 93.99 401.45 93.03 395.58 94.5C389.71 95.97 374.81 106.6 373.34 105.62Z" fill="url(#g5)"/>
<path d="M388.91 132.3C387.69 130.84 396.36 123.53 400.03 123.41C403.7 123.29 416.52 129.6 422.26 131.19C428.01 132.78 448.74 134.19 452.28 137.86C455.83 141.53 456.59 162.96 454.51 164.55C452.43 166.14 438.15 155.37 433.38 152.32C428.61 149.26 416.04 138.95 411.15 136.75C406.25 134.55 390.13 133.77 388.91 132.3Z" fill="url(#g1)"/>
<path d="M360 147.87C360.73 145.55 370.65 131.19 373.34 131.19C376.03 131.19 380.79 145.06 384.46 147.87C388.13 150.68 406.7 155.05 406.7 156.76C406.7 158.48 387.4 161.97 384.46 163.44C381.53 164.9 381.97 171.33 380.01 170.11C378.06 168.88 368.87 154.76 366.67 152.32C364.47 149.87 359.27 150.19 360 147.87Z" fill="url(#g2)"/>
<path d="M360 185.67C362.94 184.08 383.5 177.89 386.68 177.89C389.86 177.89 390.13 183.84 388.91 185.67C387.69 187.51 378.75 193.83 375.57 194.57C372.39 195.3 361.71 193.32 360 192.34C358.29 191.37 357.06 187.26 360 185.67Z" fill="url(#g2)"/>
<path d="M384.46 205.69C385.68 204.22 392.67 198.14 397.8 196.79C402.94 195.45 427.73 192.84 431.16 193.46C434.58 194.07 431.87 201.01 428.93 202.35C426 203.7 409.12 204.83 404.47 205.69C399.83 206.54 388.89 210.13 386.68 210.13C384.48 210.13 383.24 207.15 384.46 205.69Z" fill="url(#g2)"/>
<path d="M384.46 204.45C385.68 203.47 399.58 200.49 404.47 200C409.37 199.51 427.71 199.39 428.93 200C430.16 200.61 419.51 204.58 415.59 205.56C411.68 206.54 396.78 209.02 393.36 208.89C389.93 208.77 383.24 205.43 384.46 204.45Z" fill="url(#g6)"/>
<path d="M386.68 235.58C387.91 234.36 399.83 229.76 404.47 228.91C409.12 228.05 427.71 227.06 428.93 227.8C430.16 228.53 419.51 234.23 415.59 235.58C411.68 236.92 396.54 240.03 393.36 240.03C390.18 240.03 385.46 236.8 386.68 235.58Z" fill="url(#g6)"/>
<path d="M462.29 72.26C462.05 71.04 467 65.1 468.96 65.59C470.92 66.08 477.39 74.51 480.08 76.71C482.77 78.91 491.71 83.65 493.42 85.61C495.13 87.56 496.38 94.26 495.65 94.5C494.91 94.75 489.44 89.79 486.75 87.83C484.06 85.87 473.88 78.42 471.19 76.71C468.49 75 462.54 73.49 462.29 72.26Z" fill="url(#g1)"/>
<path d="M483.42 68.93C483.66 67.95 493.1 75.49 497.87 76.71C502.64 77.93 525.31 78.95 526.78 80.05C528.25 81.15 513.9 85.37 511.21 86.72C508.52 88.06 504.03 92.4 502.32 92.28C500.6 92.15 497.73 88.17 495.65 85.61C493.57 83.04 483.17 69.91 483.42 68.93Z" fill="url(#g2)"/>
<path d="M506.76 97.84C506.52 96.61 510.26 88.06 513.44 86.72C516.62 85.37 530.78 84.87 535.67 85.61C540.56 86.34 558.64 92.41 557.91 93.39C557.18 94.37 533.65 94.01 529 94.5C524.35 94.99 518.11 97.47 515.66 97.84C513.21 98.2 507.01 99.06 506.76 97.84Z" fill="url(#g5)"/>
<path d="M420.04 98.95C419.55 98.02 428.98 96.44 433.38 97.17C437.79 97.9 454.93 103.47 460.07 105.62C465.2 107.77 477.51 114.78 480.08 116.74C482.65 118.69 483.66 121.82 483.42 123.41C483.17 125 480.42 131.93 477.86 131.19C475.29 130.46 464.47 119.55 460.07 116.74C455.66 113.92 442.23 107.58 437.83 105.62C433.43 103.66 420.53 99.88 420.04 98.95Z" fill="url(#g2)"/>
<path d="M504.54 111.18C506.25 110.57 522.89 112.06 529 113.4C535.12 114.75 555.12 120.6 560.13 123.41C565.15 126.22 572.75 135.31 574.59 138.97C576.42 142.64 578.4 156.52 576.81 156.76C575.22 157.01 564.41 144.38 560.13 141.2C555.85 138.02 543.03 130.3 537.9 127.86C532.76 125.41 517.1 120.8 513.44 118.96C509.77 117.13 502.83 111.79 504.54 111.18Z" fill="url(#g2)"/>
<path d="M497.87 141.2C497.14 139.24 510.52 146.16 515.66 147.87C520.8 149.58 539.43 154.07 544.57 156.76C549.7 159.46 560.52 168.42 562.36 172.33C564.19 176.24 563.45 191.37 561.25 192.34C559.04 193.32 546.62 184.16 542.34 181.23C538.06 178.29 527.22 170.06 522.33 165.66C517.44 161.26 498.6 143.16 497.87 141.2Z" fill="url(#g1)"/>
<path d="M461.18 134.53C461.67 134.04 472.09 142.08 475.63 143.42C479.18 144.77 490.49 145.78 493.42 146.76C496.36 147.74 503.3 150.73 502.32 152.32C501.34 153.91 487.95 161.7 484.53 161.21C481.1 160.72 473.75 150.8 471.19 147.87C468.62 144.93 460.69 135.02 461.18 134.53Z" fill="url(#g6)"/>
<path d="M455.62 154.54C456.6 154.05 471.96 159.26 475.63 161.21C479.3 163.17 488.49 170.37 488.97 172.33C489.46 174.29 482.53 179.74 480.08 179C477.63 178.27 469.43 168.35 466.74 165.66C464.05 162.97 454.64 155.03 455.62 154.54Z" fill="url(#g6)"/>
<path d="M493.42 177.89C494.16 176.54 506.56 167.63 511.21 166.77C515.86 165.92 533.96 169.13 535.67 170.11C537.38 171.09 530.2 174.69 526.78 175.67C523.35 176.64 508.21 178.76 504.54 179C500.87 179.25 492.69 179.24 493.42 177.89Z" fill="url(#g1)"/>
<path d="M483.42 203.46C483.9 202.48 488.16 200.13 493.42 200.13C498.68 200.13 528.78 202.61 531.23 203.46C533.67 204.32 520.31 207.3 515.66 207.91C511.01 208.52 492.52 209.51 488.97 209.02C485.43 208.53 482.93 204.44 483.42 203.46Z" fill="url(#g6)"/>
<path d="M437.83 229.92C435.38 228.85 446.26 221.34 448.95 220.14C451.64 218.94 459.84 217.95 462.29 219.03C464.74 220.1 473.88 228.73 471.19 229.92C468.49 231.12 440.28 231 437.83 229.92Z" fill="url(#g6)"/>
<path d="M480.08 204.45C480.08 203.59 487.55 200.24 493.42 200C499.29 199.76 531 201.25 533.45 202.22C535.9 203.2 520.06 208.28 515.66 208.89C511.26 209.51 497.34 208.27 493.42 207.78C489.51 207.29 480.08 205.3 480.08 204.45Z" fill="url(#g6)"/>
<path d="M435.61 231.13C435.61 229.66 445.77 221.24 448.95 220.01C452.13 218.79 461.58 218.3 464.51 220.01C467.45 221.73 476.37 234.85 475.63 235.58C474.9 236.31 460.78 226.93 457.84 226.68C454.91 226.44 451.39 232.87 448.95 233.36C446.5 233.84 435.61 232.6 435.61 231.13Z" fill="url(#g6)"/>
<path d="M484.53 242.25C483.79 241.52 493.22 234.09 497.87 233.36C502.52 232.62 526.04 234.85 526.78 235.58C527.51 236.31 509.19 239.29 504.54 240.03C499.89 240.76 485.26 242.98 484.53 242.25Z" fill="url(#g4)"/>
<path d="M573.48 54.47C574.21 53.62 587.84 56.95 591.27 57.81C594.69 58.67 603.63 60.67 604.61 62.26C605.59 63.85 601.51 70.67 600.16 72.26C598.81 73.85 594.09 77.44 592.38 76.71C590.66 75.98 586.67 68.04 584.59 65.59C582.52 63.15 572.74 55.33 573.48 54.47Z" fill="url(#g1)"/>
<path d="M596.82 86.72C597.56 85.01 607.49 70.63 611.28 67.82C615.07 65 626.4 60.9 631.29 61.15C636.18 61.39 651.23 67.47 655.75 70.04C660.28 72.61 673.16 83.76 672.43 84.49C671.7 85.23 654.59 77.57 649.08 76.71C643.58 75.86 627.29 75.98 622.4 76.71C617.51 77.44 607.42 82.28 604.61 83.38C601.79 84.48 596.09 88.43 596.82 86.72Z" fill="url(#g5)"/>
<path d="M516.77 66.7C515.06 65.77 528.68 62.82 533.45 62.7C538.22 62.58 555.49 64.54 560.13 65.59C564.78 66.64 573.25 70.55 575.7 72.26C578.15 73.98 580.9 79.32 582.37 81.16C583.84 82.99 590.26 89.43 589.04 88.94C587.82 88.45 575.65 78.67 571.25 76.71C566.85 74.75 555.01 72.25 549.01 71.15C543.02 70.05 518.48 67.63 516.77 66.7Z" fill="url(#g1)"/>
<path d="M597.94 87.83C599.16 86 611.57 78.31 615.73 77.82C619.88 77.33 635.49 82.28 635.74 83.38C635.98 84.48 621.37 86.61 617.95 87.83C614.53 89.05 606.81 94.5 604.61 94.5C602.41 94.5 596.71 89.66 597.94 87.83Z" fill="url(#g2)"/>
<path d="M585.71 106.73C585.95 105.88 597.86 109.03 602.38 108.95C606.91 108.88 622.44 105.45 626.84 106.06C631.25 106.68 640.45 112.61 642.41 114.51C644.37 116.42 646.1 120.47 644.63 123.41C643.17 126.34 632.25 140.95 629.07 141.2C625.89 141.44 618.91 128.32 615.73 125.63C612.55 122.94 603.46 118.82 600.16 116.74C596.86 114.66 585.46 107.59 585.71 106.73Z" fill="url(#g1)"/>
<path d="M604.61 145.65C604.12 144.91 607.61 138.22 611.28 136.75C614.95 135.28 629.77 132.84 637.96 132.3C646.16 131.77 682.1 131.25 685.77 131.86C689.44 132.47 676.58 137.08 671.32 137.86C666.06 138.65 644.08 138.36 637.96 138.97C631.85 139.59 619.4 142.69 615.73 143.42C612.06 144.16 605.1 146.38 604.61 145.65Z" fill="url(#g2)"/>
<path d="M593.49 197.9C594.47 197.17 604.65 198.28 609.05 199.01C613.46 199.75 632.05 203.47 633.52 204.57C634.98 205.67 626.07 208.9 622.4 209.02C618.73 209.14 603.34 206.91 600.16 205.69C596.98 204.46 592.51 198.64 593.49 197.9Z" fill="url(#g6)"/>
<path d="M567.92 233.36C568.16 231.15 575.35 226.93 577.92 226.68C580.49 226.44 588.33 230.89 591.27 231.13C594.2 231.38 602.28 227.93 604.61 228.91C606.93 229.89 612.15 237.83 612.39 240.03C612.64 242.23 608.91 247.33 606.83 248.92C604.75 250.51 596.91 254.73 593.49 254.48C590.06 254.24 578.51 249.02 575.7 246.7C572.89 244.37 567.67 235.56 567.92 233.36Z" fill="url(#g8)"/>
<path d="M593.49 204.45C594.22 203.47 602.43 200 606.83 200C611.23 200 632.54 203.71 633.52 204.45C634.49 205.18 619.4 206.18 615.73 206.67C612.06 207.16 602.61 209.14 600.16 208.89C597.71 208.65 592.76 205.43 593.49 204.45Z" fill="url(#g6)"/>
<path d="M542.34 241.14C542.1 240.53 563.87 237.56 566.8 237.8C569.74 238.05 571.72 243 569.03 243.36C566.34 243.73 542.59 241.75 542.34 241.14Z" fill="url(#g4)"/>
</g>
<rect x="611.6" y="389.4" width="69.2" height="1.6" fill="#fff"/>
</g>
<g clip-path="url(#cB)">
<rect x="55" y="417" width="634" height="421" fill="url(#gB)"/>
<rect x="55" y="417" width="634" height="421" filter="url(#grain)" opacity="0.06"/>
<g filter="url(#soft)">
<g filter="url(#soft2)"><ellipse cx="380" cy="835" rx="330" ry="30" fill="#1c212a" opacity="0.8"/></g>
<rect x="55" y="417" width="634" height="421" filter="url(#grain)" opacity="0.10"/>
<path d="M90.03 702.28C91.36 688.49 95.81 692.49 107.82 688.93C119.82 685.38 130.5 683.6 150.07 684.49C169.64 685.38 191.43 688.93 205.66 693.38C219.89 697.83 221.23 690.27 221.23 706.72C221.23 723.18 211 754.76 205.66 775.66C200.32 796.56 204.33 802.79 194.54 811.24C184.76 819.69 172.3 817.91 156.74 817.91C141.17 817.91 127.83 823.25 116.71 811.24C105.59 799.23 106.48 779.66 101.15 757.87C95.81 736.08 88.69 716.06 90.03 702.28Z" fill="url(#g0)"/>
<path d="M232.34 704.5C234.12 691.16 233.23 695.16 250.13 691.16C267.03 687.16 298.17 683.6 316.84 684.49C335.52 685.38 338.64 686.27 343.53 695.61C348.42 704.95 343.97 714.29 341.31 731.19C338.64 748.09 335.08 764.1 330.19 780.11C325.29 796.12 326.63 803.68 316.84 811.24C307.06 818.8 293.72 818.35 281.27 817.91C268.81 817.46 262.59 821.02 254.58 809.01C246.58 797.01 245.69 778.77 241.24 757.87C236.79 736.97 230.56 717.84 232.34 704.5Z" fill="url(#g0)"/>
<path d="M361.11 701.17C364.89 689.6 369.12 697.16 382.24 695.61C395.36 694.05 411.15 691.6 426.71 693.38C442.28 695.16 454.29 692.49 460.07 704.5C465.85 716.51 458.73 732.07 455.62 753.42C452.51 774.77 452.51 797.01 444.5 811.24C436.5 825.47 428.93 822.8 415.59 824.58C402.25 826.36 386.91 822.8 377.79 820.13C368.67 817.46 372.9 824.58 370.01 811.24C367.12 797.9 365.11 775.44 363.34 753.42C361.56 731.41 357.33 712.73 361.11 701.17Z" fill="url(#g0)"/>
<path d="M458.95 726.74C460.73 715.17 470.07 724.51 473.41 717.84C476.74 711.17 467.18 698.72 475.63 693.38C484.08 688.05 496.54 688.05 515.66 691.16C534.78 694.27 561.02 700.94 571.25 708.95C581.48 716.95 569.03 717.84 566.8 731.19C564.58 744.53 563.69 757.87 560.13 775.66C556.58 793.45 557.91 808.13 549.01 820.13C540.12 832.14 529.45 834.37 515.66 835.7C501.87 837.03 490.31 838.81 480.08 826.8C469.85 814.8 468.74 795.67 464.51 775.66C460.29 755.65 457.18 738.3 458.95 726.74Z" fill="url(#g0)"/>
<path d="M564.58 717.84C567.69 708.06 567.69 708.5 582.37 704.5C597.05 700.5 620.17 696.94 637.96 697.83C655.75 698.72 665.09 699.61 671.32 708.95C677.55 718.29 671.76 726.74 669.09 744.53C666.43 762.32 663.31 781.89 657.98 797.9C652.64 813.91 653.08 818.8 642.41 824.58C631.74 830.36 618.39 830.81 604.61 826.8C590.82 822.8 581.04 819.24 573.48 804.57C565.92 789.89 568.58 770.77 566.8 753.42C565.03 736.08 561.47 727.63 564.58 717.84Z" fill="url(#g0)"/>
<path d="M473.41 722.29C469.41 718.29 471.85 716.73 484.53 713.4C497.2 710.06 495.65 709.84 515.66 711.17C535.67 712.51 537.9 711.84 551.24 717.84C564.58 723.85 564.14 726.52 560.13 731.19C556.13 735.86 556.58 734.74 537.9 733.41C519.22 732.07 517.22 730.07 497.87 726.74C478.52 723.4 477.41 726.29 473.41 722.29Z" fill="#7d6547"/>
<path d="M611.28 717.84C615.95 712.51 625.96 708.28 637.96 708.95C649.97 709.62 647.97 714.73 651.31 720.07C654.64 725.4 657.75 724.74 649.08 726.74C640.41 728.74 633.74 729.41 622.4 726.74C611.06 724.07 606.61 723.18 611.28 717.84Z" fill="#c2a03c"/>
<path d="M116.71 713.4C119.38 710.39 122.05 708.95 143.4 708.95C164.74 708.95 178.53 710.39 187.87 713.4C197.21 716.4 190.54 717.29 174.53 718.95C158.52 720.62 151.85 720.62 134.5 718.95C117.16 717.29 114.04 716.4 116.71 713.4Z" fill="#4a3f2c"/>
<path d="M241.24 717.84C241.24 715.51 250.13 715.62 263.48 715.62C276.82 715.62 285.71 715.51 285.71 717.84C285.71 720.18 276.82 723.4 263.48 723.4C250.13 723.4 241.24 720.18 241.24 717.84Z" fill="#4a3f2c"/>
<path d="M101.15 724.51C113.38 726.18 121.71 731.74 150.07 731.19C178.42 730.63 198.43 724.51 214.55 722.29" fill="none" stroke="#3a3a3a" stroke-width="1.2" stroke-linecap="round" stroke-opacity="0.8"/>
<path d="M103.37 737.86C115.04 739.52 122.83 745.08 150.07 744.53C177.31 743.97 196.76 737.86 212.33 735.63" fill="none" stroke="#2e2e2e" stroke-width="1.2" stroke-linecap="round" stroke-opacity="0.8"/>
<path d="M239.01 726.74C250.13 727.85 258.47 733.41 283.49 731.19C308.51 728.96 325.18 721.18 339.08 717.84" fill="none" stroke="#444" stroke-width="1.4" stroke-linecap="round" stroke-opacity="0.8"/>
<path d="M272.37 722.29 L285.71 718.95" fill="none" stroke="#aaa" stroke-width="2.5" stroke-linecap="round" stroke-opacity="0.7"/>
<path d="M274.59 816.8 L305.73 815.69" fill="none" stroke="#999" stroke-width="2" stroke-linecap="round" stroke-opacity="0.7"/>
<path d="M116.71 811.24C126.72 812.63 137.84 816.8 156.74 816.8C175.64 816.8 183.42 812.63 192.32 811.24" fill="none" stroke="#3a3a3a" stroke-width="1.5" stroke-linecap="round" stroke-opacity="0.8"/>
<path d="M362.22 724.51C372.79 727.29 381.13 735.08 404.47 735.63C427.82 736.19 442.83 728.96 455.62 726.74" fill="none" stroke="#3c3c3c" stroke-width="1.2" stroke-linecap="round" stroke-opacity="0.8"/>
<path d="M464.51 735.63C477.3 738.97 490.64 748.97 515.66 748.97C540.68 748.97 552.35 738.97 564.58 735.63" fill="none" stroke="#505050" stroke-width="1.6" stroke-linecap="round" stroke-opacity="0.8"/>
<path d="M466.74 746.75C478.97 750.09 491.75 759.54 515.66 760.09C539.56 760.65 550.68 751.75 562.36 748.97" fill="none" stroke="#3c3c3c" stroke-width="1.4" stroke-linecap="round" stroke-opacity="0.8"/>
<path d="M573.48 735.63C586.82 737.86 603.5 744.53 626.84 744.53C650.19 744.53 656.86 737.86 666.87 735.63" fill="none" stroke="#484848" stroke-width="1.4" stroke-linecap="round" stroke-opacity="0.8"/>
<path d="M573.48 746.75C586.82 748.97 604.05 755.65 626.84 755.65C649.64 755.65 655.2 748.97 664.65 746.75" fill="none" stroke="#383838" stroke-width="1.4" stroke-linecap="round" stroke-opacity="0.8"/>
<path d="M102.26 753.42C114.21 755.09 122.83 760.65 150.07 760.09C177.31 759.54 195.93 753.42 211.22 751.2" fill="none" stroke="#4a4a4a" stroke-width="1.2" stroke-linecap="round" stroke-opacity="0.7"/>
<path d="M241.24 740.08C251.8 741.47 259.03 747.86 283.49 745.64C307.95 743.42 325.18 734.8 339.08 731.19" fill="none" stroke="#4a4a4a" stroke-width="1.2" stroke-linecap="round" stroke-opacity="0.7"/>
<path d="M243.46 753.42C253.47 754.81 260.14 761.21 283.49 758.98C306.84 756.76 323.52 748.14 336.86 744.53" fill="none" stroke="#4a4a4a" stroke-width="1.2" stroke-linecap="round" stroke-opacity="0.7"/>
<path d="M363.34 737.86C373.62 740.64 381.51 748.42 404.47 748.97C427.43 749.53 442.5 742.3 455.17 740.08" fill="none" stroke="#4a4a4a" stroke-width="1.2" stroke-linecap="round" stroke-opacity="0.7"/>
<path d="M364.45 753.42C374.45 755.65 382.24 762.32 404.47 762.32C426.71 762.32 441.17 755.65 453.4 753.42" fill="none" stroke="#4a4a4a" stroke-width="1.2" stroke-linecap="round" stroke-opacity="0.7"/>
<path d="M573.48 760.09C586.82 762.32 604.33 769.27 626.84 768.99C649.36 768.71 654.36 761.48 663.54 758.98" fill="none" stroke="#4a4a4a" stroke-width="1.2" stroke-linecap="round" stroke-opacity="0.7"/>
<path d="M116.71 757.87C121.38 743.86 128.72 752.09 150.07 753.42C171.41 754.76 179.2 748.97 187.87 762.32C196.54 775.66 194.99 786.56 178.97 797.9C162.96 809.24 153.18 812.13 134.5 800.12C115.82 788.11 112.04 771.88 116.71 757.87Z" fill="#1f1f1f" fill-opacity="0.8"/>
<path d="M254.58 753.42C259.92 738.75 265.7 747.64 285.71 748.97C305.73 750.31 313.29 743.19 321.29 757.87C329.3 772.55 328.41 785.89 312.4 797.9C296.39 809.9 285.27 811.24 267.92 797.9C250.58 784.55 249.24 768.1 254.58 753.42Z" fill="#1f1f1f" fill-opacity="0.8"/>
<path d="M373.34 753.42C380.01 736.74 387.57 747.64 408.92 748.97C430.27 750.31 437.16 741.86 444.5 757.87C451.84 773.88 450.73 788.33 433.38 802.34C416.04 816.35 404.7 819.24 386.68 804.57C368.67 789.89 366.67 770.1 373.34 753.42Z" fill="#1e1e1e" fill-opacity="0.8"/>
<path d="M475.63 762.32C483.64 747.64 491.64 766.76 515.66 766.76C539.68 766.76 547.68 747.64 555.69 762.32C563.69 776.99 562.36 799.68 542.34 815.69C522.33 831.7 508.99 831.7 488.97 815.69C468.96 799.68 467.63 776.99 475.63 762.32Z" fill="#1e1e1e" fill-opacity="0.8"/>
<path d="M577.92 762.32C587.26 748.97 598.38 766.76 622.4 766.76C646.41 766.76 650.64 748.97 657.98 762.32C665.31 775.66 666.87 796.56 646.86 811.24C626.84 825.92 611.95 825.92 591.27 811.24C570.58 796.56 568.58 775.66 577.92 762.32Z" fill="#1e1e1e" fill-opacity="0.8"/>
<path d="M151.18 543.42C151.46 552.32 150.62 557.38 152.29 579C153.96 600.63 156.46 617.19 157.85 629.92" fill="none" stroke="#8c7c5c" stroke-width="2" stroke-linecap="round"/>
<path d="M153.4 620C154.24 626.67 154.79 633.34 156.74 646.68C158.68 660.03 160.07 666.7 161.19 673.37" fill="none" stroke="#a89a50" stroke-width="2.2" stroke-linecap="round"/>
<path d="M151.18 543.42C148.12 542.87 147.57 541.2 138.95 541.2C130.33 541.2 122.27 542.87 116.71 543.42" fill="none" stroke="#8c7c5c" stroke-width="1.3" stroke-linecap="round"/>
<path d="M154.51 543.42C158.41 544.53 162.85 544.53 170.08 547.87C177.31 551.21 180.09 554.54 183.42 556.76" fill="none" stroke="#8c7c5c" stroke-width="1.3" stroke-linecap="round"/>
<path d="M156.74 581.23 L170.08 587.9" fill="none" stroke="#8c7c5c" stroke-width="1.3" stroke-linecap="round"/>
<path d="M152.29 607.91C147.84 608.47 141.17 607.35 134.5 610.13C127.83 612.91 127.83 616.8 125.61 619.03" fill="none" stroke="#8c7c5c" stroke-width="1.3" stroke-linecap="round"/>
<path d="M285.71 558.99C285.82 567.33 285.88 574.61 286.16 592.34C286.44 610.08 286.66 620.53 286.82 629.92" fill="none" stroke="#8c7c5c" stroke-width="2" stroke-linecap="round"/>
<path d="M289.05 620C288.21 633.9 288.21 652.24 285.71 675.59C283.21 698.94 280.71 703.94 279.04 713.4" fill="none" stroke="#a89a50" stroke-width="2.2" stroke-linecap="round"/>
<path d="M285.71 557.88 L272.37 554.54" fill="none" stroke="#8c7c5c" stroke-width="1.3" stroke-linecap="round"/>
<path d="M286.82 557.88C291.55 556.49 297.11 554.54 305.73 552.32C314.34 550.09 317.4 549.82 321.29 548.98" fill="none" stroke="#8c7c5c" stroke-width="1.3" stroke-linecap="round"/>
<path d="M393.36 534.53C393.63 538.97 393.91 543.42 394.47 552.32C395.02 561.21 395.3 565.66 395.58 570.11" fill="none" stroke="#8c7c5c" stroke-width="2.4" stroke-linecap="round"/>
<path d="M393.36 556.76C390.02 557.88 385.57 557.88 380.01 561.21C374.45 564.55 373.34 567.88 371.12 570.11" fill="none" stroke="#8c7c5c" stroke-width="1.3" stroke-linecap="round"/>
<path d="M396.69 545.65 L411.15 544.53" fill="none" stroke="#8c7c5c" stroke-width="1.3" stroke-linecap="round"/>
<path d="M508.99 563.44C509.27 571.77 509.54 580.17 510.1 596.79C510.66 613.41 510.93 621.64 511.21 629.92" fill="none" stroke="#8c7c5c" stroke-width="2" stroke-linecap="round"/>
<path d="M511.21 620C511.49 631.12 511.21 638.35 512.32 664.47C513.44 690.6 514.83 709.5 515.66 724.51" fill="none" stroke="#8c8c50" stroke-width="2.2" stroke-linecap="round"/>
<path d="M508.99 563.44C507.32 562.88 505.65 563.99 502.32 561.21C498.98 558.43 497.31 554.54 495.65 552.32" fill="none" stroke="#8c7c5c" stroke-width="1.3" stroke-linecap="round"/>
<path d="M507.88 574.55C504.26 576.78 498.7 579 493.42 583.45C488.14 587.9 488.42 590.12 486.75 592.34" fill="none" stroke="#8c7c5c" stroke-width="1.3" stroke-linecap="round"/>
<path d="M623.51 563.44C622.68 571.77 622.12 580.17 620.17 596.79C618.23 613.41 616.84 621.64 615.73 629.92" fill="none" stroke="#8c7c5c" stroke-width="2" stroke-linecap="round"/>
<path d="M611.28 620C609.89 633.9 608.22 650.02 605.72 675.59C603.22 701.17 602.38 710.62 601.27 722.29" fill="none" stroke="#9a8c50" stroke-width="2.2" stroke-linecap="round"/>
<path d="M623.51 564.55 L640.19 562.32" fill="none" stroke="#8c7c5c" stroke-width="1.3" stroke-linecap="round"/>
<path d="M622.4 567.88C619.62 568.99 615.73 568.99 611.28 572.33C606.83 575.67 606.28 579 604.61 581.23" fill="none" stroke="#8c7c5c" stroke-width="1.3" stroke-linecap="round"/>
<path d="M60.01 586.78C60.01 584.34 68.22 566.06 74.46 561.21C80.7 556.37 109.13 544.71 116.71 542.76C124.29 540.8 142.17 541.39 143.4 543.42C144.62 545.45 131.99 559.74 127.83 561.21C123.67 562.68 109.75 555.79 105.59 556.76C101.43 557.74 93.45 567.17 90.03 570.11C86.6 573.04 77.76 581.61 74.46 583.45C71.16 585.28 60.01 589.23 60.01 586.78Z" fill="url(#g9)"/>
<path d="M125.61 553.43C126.34 551.23 135.28 543.91 138.95 543.42C142.62 542.93 157.74 547.39 158.96 548.98C160.18 550.57 153 556.29 150.07 557.88C147.13 559.47 134.97 563.92 132.28 563.44C129.59 562.95 124.87 555.63 125.61 553.43Z" fill="url(#g10)"/>
<path d="M176.75 552.32C177.48 551.58 185.18 551.61 187.87 554.54C190.56 557.48 199.26 572.89 201.21 579C203.17 585.12 205.41 605.98 205.66 610.13C205.9 614.29 204.9 617.54 203.44 616.8C201.97 616.07 194.03 607.87 192.32 603.46C190.6 599.06 189.09 581.43 187.87 576.78C186.65 572.13 182.42 563.9 181.2 561.21C179.98 558.52 176.02 553.05 176.75 552.32Z" fill="url(#g11)"/>
<path d="M156.74 581.23C157.23 580.98 170.61 587.43 174.53 590.12C178.44 592.81 189.14 602.51 192.32 605.69C195.5 608.87 200.87 618.29 203.44 619.03C206 619.76 214.93 611.62 215.67 612.36C216.4 613.09 211.94 623.77 210.11 625.7C208.27 627.63 201.92 631.64 198.99 629.92C196.05 628.21 186.6 614.27 183.42 610.13C180.24 606 173.02 595.52 170.08 592.34C167.14 589.16 156.25 581.47 156.74 581.23Z" fill="url(#g11)"/>
<path d="M107.82 629.92C106.84 628.97 114.27 622.94 116.71 621.25C119.16 619.56 129.07 613.63 130.05 614.58C131.03 615.53 128.05 628.24 125.61 629.92C123.16 631.61 108.79 630.88 107.82 629.92Z" fill="url(#g9)"/>
<path d="M95.59 673.37C95.1 668.48 97.09 647.62 98.92 642.24C100.76 636.86 109.33 626.89 112.26 624.45C115.2 622 123.65 618.29 125.61 620C127.56 621.71 130.05 635.12 130.05 640.01C130.05 644.91 127.07 659.83 125.61 664.47C124.14 669.12 119.16 679.82 116.71 682.26C114.27 684.71 105.69 687.69 103.37 686.71C101.05 685.73 96.08 678.26 95.59 673.37Z" fill="url(#g12)"/>
<path d="M125.61 704.5C125.36 701.32 137.99 686.69 141.17 684.49C144.35 682.29 152.56 680.82 154.51 684.49C156.47 688.16 160.18 714.66 158.96 717.84C157.74 721.02 147.06 714.86 143.4 713.4C139.73 711.93 125.85 707.68 125.61 704.5Z" fill="url(#g13)"/>
<path d="M192.32 662.25C194.03 659.32 206.05 654.11 207.88 655.58C209.72 657.05 209.24 672.17 208.99 675.59C208.75 679.02 205.05 683.53 205.66 686.71C206.27 689.89 215.53 703.28 214.55 704.5C213.58 705.72 199.21 700.28 196.76 697.83C194.32 695.38 192.81 686.18 192.32 682.26C191.83 678.35 190.6 665.19 192.32 662.25Z" fill="url(#g14)"/>
<path d="M154.51 684.49C155.49 679.35 162.19 662.21 163.41 657.8C164.63 653.4 163.43 644.46 165.63 644.46C167.83 644.46 180.24 654.62 183.42 657.8C186.6 660.98 193.56 668.23 194.54 673.37C195.52 678.51 193.54 700.34 192.32 704.5C191.09 708.66 186.36 709.7 183.42 711.17C180.49 712.64 168.81 718.58 165.63 717.84C162.45 717.11 155.74 708.17 154.51 704.5C153.29 700.83 153.54 689.62 154.51 684.49Z" fill="url(#g15)"/>
<path d="M190.09 620C191.32 619.02 213.09 619.02 214.55 620C216.02 620.98 206.13 628.89 203.44 628.89C200.74 628.89 188.87 620.98 190.09 620Z" fill="url(#g11)"/>
<path d="M213.44 551.21C214.42 549.98 221.64 548.11 225.67 547.87C229.71 547.63 245 548.25 250.13 548.98C255.27 549.72 268.95 553.68 272.37 554.54C275.79 555.4 283.71 556.52 281.27 556.76C278.82 557.01 256 556.28 250.13 556.76C244.26 557.25 231.57 560.97 227.9 561.21C224.23 561.46 218.37 560.09 216.78 558.99C215.19 557.89 212.46 552.43 213.44 551.21Z" fill="url(#g9)"/>
<path d="M290.16 556.76C289.67 556.4 308.97 552.43 312.4 551.21C315.82 549.98 318.36 545.52 321.29 545.65C324.23 545.77 335.17 550.36 339.08 552.32C343 554.27 353.69 560.74 356.87 563.44C360.05 566.13 367.99 575.55 367.99 576.78C367.99 578 360.05 576.02 356.87 574.55C353.69 573.09 343.48 565.64 339.08 563.44C334.68 561.23 322.23 555.27 316.84 554.54C311.46 553.81 290.65 557.13 290.16 556.76Z" fill="url(#g11)"/>
<path d="M243.46 565.66C245.79 563.95 259.05 562.21 261.25 563.44C263.45 564.66 263.72 573.35 263.48 576.78C263.23 580.2 259.03 591.39 259.03 594.57C259.03 597.75 264.45 603.48 263.48 605.69C262.5 607.89 252.82 615.07 250.13 614.58C247.44 614.09 240.12 605.15 239.01 601.24C237.91 597.32 239.64 582.92 240.13 579C240.62 575.09 241.14 567.37 243.46 565.66Z" fill="url(#g16)"/>
<path d="M257.92 592.34C257.92 588.67 261.64 571.31 263.48 567.88C265.31 564.46 271.17 561.82 274.59 561.21C278.02 560.6 291.67 561.35 294.61 562.32C297.54 563.3 301.77 567.54 301.28 570.11C300.79 572.68 293.34 582.98 290.16 585.67C286.98 588.36 275.31 592.86 272.37 594.57C269.44 596.28 265.07 601.48 263.48 601.24C261.89 600.99 257.92 596.01 257.92 592.34Z" fill="url(#g17)"/>
<path d="M289.05 629.92C286.36 627.75 295.73 614.02 296.83 610.13C297.93 606.24 297.34 595.06 299.05 594.57C300.77 594.08 309.95 601.8 312.4 605.69C314.84 609.58 323.86 627.26 321.29 629.92C318.72 632.59 291.74 632.1 289.05 629.92Z" fill="url(#g9)"/>
<path d="M234.57 702.28C233.59 698.61 233.34 680.97 234.57 675.59C235.79 670.21 242.51 657.76 245.69 653.36C248.87 648.95 260.3 636.79 263.48 635.57C266.66 634.34 272.39 639.06 274.59 642.24C276.8 645.42 282.51 658.85 283.49 664.47C284.47 670.1 284.71 688 283.49 693.38C282.27 698.76 275.06 710.7 272.37 713.4C269.68 716.09 262.21 718.33 259.03 717.84C255.85 717.35 246.15 710.66 243.46 708.95C240.77 707.24 235.55 705.95 234.57 702.28Z" fill="url(#g15)"/>
<path d="M290.16 620C293.1 617.8 317.99 616.33 321.29 620C324.59 623.67 321.89 650.18 320.18 653.36C318.47 656.54 308.54 650.38 305.73 648.91C302.91 647.44 296.32 643.19 294.61 640.01C292.9 636.83 287.22 622.2 290.16 620Z" fill="url(#g18)"/>
<path d="M292.38 682.26C293.61 679.08 298.83 678.82 301.28 680.04C303.72 681.26 312.42 690.69 314.62 693.38C316.82 696.07 323 702.3 321.29 704.5C319.58 706.7 302.48 712.91 299.05 713.4C295.63 713.88 290.89 712.37 290.16 708.95C289.43 705.52 291.16 685.44 292.38 682.26Z" fill="url(#g19)"/>
<path d="M360.21 552.32C362.26 550.36 377.43 541.69 380 541.2C382.57 540.71 385.61 545.91 383.56 547.87C381.5 549.83 363.89 558.5 361.32 558.99C358.75 559.48 358.15 554.27 360.21 552.32Z" fill="url(#g11)"/>
<path d="M347.98 607.91C347.73 606.81 359.12 606.89 361.32 603.46C363.52 600.04 366.77 580.45 367.99 576.78C369.21 573.11 371.58 570.35 372.44 570.11C373.29 569.86 376.02 570.89 375.77 574.55C375.53 578.22 371.56 599.18 370.21 603.46C368.87 607.74 365.99 612.98 363.54 613.47C361.1 613.96 348.22 609.01 347.98 607.91Z" fill="url(#g11)"/>
<path d="M347.98 682.26C348.22 678.11 355.57 667.16 359.09 664.47C362.62 661.78 377.31 654.38 380 657.8C382.69 661.23 385.12 691.69 383.56 695.61C381.99 699.52 368.7 692.65 365.77 693.38C362.83 694.12 358.83 703.5 356.87 702.28C354.91 701.05 347.73 686.42 347.98 682.26Z" fill="url(#g20)"/>
<path d="M360 554.54C360.73 552.83 370.41 545.01 373.34 543.42C376.28 541.83 385.71 539.35 386.68 540.09C387.66 540.82 384.44 548.01 382.24 550.09C380.04 552.17 369.12 558.5 366.67 558.99C364.23 559.48 359.27 556.25 360 554.54Z" fill="url(#g11)"/>
<path d="M411.15 543.42C410.9 540.98 417.35 538.49 420.04 538.97C422.73 539.46 432.43 544.93 435.61 547.87C438.79 550.8 447.11 562.48 448.95 565.66C450.78 568.84 452.53 574.58 452.28 576.78C452.04 578.98 448.8 585.92 446.72 585.67C444.65 585.43 436.07 577.24 433.38 574.55C430.69 571.86 424.71 564.64 422.26 561.21C419.82 557.79 411.39 545.87 411.15 543.42Z" fill="url(#g21)"/>
<path d="M360 565.66C361.22 561.01 369.41 569.13 371.12 570.11C372.83 571.09 375.81 572.11 375.57 574.55C375.32 577 369.87 588.43 368.89 592.34C367.92 596.26 367.65 607.93 366.67 610.13C365.69 612.33 360.73 617.25 360 612.36C359.27 607.46 358.78 570.31 360 565.66Z" fill="url(#g11)"/>
<path d="M406.7 579C407.31 575.7 411.17 571.71 413.37 571.22C415.57 570.73 424.51 571.99 426.71 574.55C428.91 577.12 431.67 589.43 433.38 594.57C435.09 599.7 441.79 617.36 442.28 621.25C442.77 625.14 441.01 628.97 437.83 629.92C434.65 630.88 416.67 633.08 413.37 629.92C410.07 626.77 408.54 606.84 407.81 601.24C407.08 595.64 406.09 582.3 406.7 579Z" fill="url(#g22)"/>
<path d="M375.57 610.13C375.57 604.78 380.28 586.12 382.24 581.23C384.19 576.33 390.91 565.17 393.36 565.66C395.8 566.15 402.39 579.8 404.47 585.67C406.55 591.54 411.77 614.16 412.26 619.03C412.75 623.9 412.22 628.73 408.92 629.92C405.62 631.12 385.91 632.1 382.24 629.92C378.57 627.75 375.57 615.49 375.57 610.13Z" fill="url(#g23)"/>
<path d="M415.59 620C417.3 618.53 439.83 617.55 442.28 620C444.72 622.45 439.54 640.77 437.83 642.24C436.12 643.7 429.16 635.79 426.71 633.34C424.27 630.9 413.88 621.47 415.59 620Z" fill="url(#g22)"/>
<path d="M380.01 620C382.95 617.55 410.19 618.04 413.37 620C416.55 621.96 410.63 634.37 408.92 637.79C407.21 641.21 400.25 650.64 397.8 651.13C395.36 651.62 388.64 645.66 386.68 642.24C384.73 638.81 377.08 622.45 380.01 620Z" fill="url(#g23)"/>
<path d="M428.93 644.46C429.18 642.01 442.93 642.24 446.72 642.24C450.52 642.24 462.18 640.55 463.4 644.46C464.63 648.37 459.92 675.61 457.84 677.82C455.76 680.02 447.68 668.14 444.5 664.47C441.32 660.8 428.69 646.91 428.93 644.46Z" fill="url(#g24)"/>
<path d="M360 664.47C361.71 660.07 373.36 656.58 375.57 657.8C377.77 659.03 380.01 671.43 380.01 675.59C380.01 679.75 377.77 693.16 375.57 695.61C373.36 698.05 361.71 701.25 360 697.83C358.29 694.41 358.29 668.88 360 664.47Z" fill="url(#g20)"/>
<path d="M380.01 686.71C379.28 679.37 384.99 652.58 388.91 648.91C392.82 645.24 410.95 649.69 415.59 653.36C420.24 657.02 429.94 677.37 431.16 682.26C432.38 687.16 429.65 694.89 426.71 697.83C423.78 700.76 407.9 706.99 404.47 708.95C401.05 710.91 398.27 718.07 395.58 715.62C392.89 713.17 380.75 694.05 380.01 686.71Z" fill="url(#g25)"/>
<path d="M420.04 704.5C419.8 701.93 428.47 698.45 431.16 698.94C433.85 699.43 442.05 706.14 444.5 708.95C446.95 711.76 454.62 723.05 453.4 724.51C452.17 725.98 437.05 724.49 433.38 722.29C429.71 720.09 420.28 707.07 420.04 704.5Z" fill="url(#g15)"/>
<path d="M485.64 540.09C486.25 539.11 492.32 537.63 493.42 538.97C494.52 540.32 494.67 549.87 495.65 552.32C496.62 554.76 502.56 560.72 502.32 561.21C502.07 561.7 495.01 558.23 493.42 556.76C491.83 555.3 488.72 549.7 487.86 547.87C487.01 546.04 485.03 541.07 485.64 540.09Z" fill="url(#g26)"/>
<path d="M466.74 625.7C467.23 623.03 473.92 609.11 475.63 605.69C477.34 602.26 480.59 596.28 482.3 594.57C484.02 592.86 490.71 588.9 491.2 590.12C491.69 591.34 487.97 602.02 486.75 605.69C485.53 609.36 481.79 620.81 480.08 623.48C478.37 626.14 472.65 629.68 471.19 629.92C469.72 630.17 466.25 628.37 466.74 625.7Z" fill="url(#g27)"/>
<path d="M511.21 572.33C511.7 569.64 518.03 569.37 520.11 570.11C522.19 570.84 528.89 575.09 530.11 579C531.34 582.92 530.49 600.08 531.23 605.69C531.96 611.29 539.48 627.26 536.78 629.92C534.09 632.59 510.31 631.12 506.76 629.92C503.22 628.73 503.56 622.92 504.54 619.03C505.52 615.14 514.93 599.7 515.66 594.57C516.39 589.43 510.72 575.02 511.21 572.33Z" fill="url(#g28)"/>
<path d="M470.07 660.03C469.58 656.11 473.06 637.26 475.63 633.34C478.2 629.43 490.73 623.96 493.42 624.45C496.11 624.94 499.85 633.88 500.09 637.79C500.34 641.7 496.87 655.62 495.65 660.03C494.42 664.43 490.69 676.84 488.97 677.82C487.26 678.79 482.16 670.88 480.08 668.92C478 666.96 470.56 663.94 470.07 660.03Z" fill="url(#g29)"/>
<path d="M502.32 620C504.76 617.8 531.76 617.55 535.67 620C539.59 622.45 537.04 638.93 537.9 642.24C538.75 645.54 544.68 649.53 543.46 650.02C542.23 650.51 530.08 647.79 526.78 646.68C523.48 645.58 516.13 642.95 513.44 640.01C510.74 637.08 499.87 622.2 502.32 620Z" fill="url(#g30)"/>
<path d="M517.88 682.26C518.86 680.06 526.07 669.9 529 668.92C531.94 667.94 541.14 671.66 544.57 673.37C547.99 675.08 556.95 682.53 560.13 684.49C563.31 686.44 570.78 689.2 573.48 691.16C576.17 693.12 586.06 701.79 584.59 702.28C583.13 702.77 565.76 697.07 560.13 695.61C554.51 694.14 537.85 689.67 533.45 688.93C529.05 688.2 521.82 689.67 520.11 688.93C518.39 688.2 516.9 684.47 517.88 682.26Z" fill="url(#g31)"/>
<path d="M466.74 624.45C467.23 623.47 477.14 620.49 480.08 620C483.02 619.51 493.91 619.02 493.42 620C492.93 620.98 478.57 628.41 475.63 628.89C472.7 629.38 466.25 625.43 466.74 624.45Z" fill="url(#g28)"/>
<path d="M642.41 561.21C643.39 560.97 652.82 563.92 655.75 563.44C658.69 562.95 666.4 557.25 669.09 556.76C671.79 556.28 679.24 557.77 680.21 558.99C681.19 560.21 680.19 566.78 677.99 567.88C675.79 568.98 663.62 569.24 660.2 568.99C656.78 568.75 648.81 566.52 646.86 565.66C644.9 564.8 641.43 561.46 642.41 561.21Z" fill="url(#g32)"/>
<path d="M573.48 610.13C572.99 608.42 573.74 597.26 575.7 594.57C577.66 591.88 588.09 587.14 591.27 585.67C594.45 584.21 602.9 582.45 604.61 581.23C606.32 580 607.08 573.58 606.83 574.55C606.59 575.53 604.1 586.94 602.38 590.12C600.67 593.3 593.71 601.26 591.27 603.46C588.82 605.66 582.1 609.4 580.15 610.13C578.19 610.87 573.96 611.85 573.48 610.13Z" fill="url(#g33)"/>
<path d="M617.95 605.69C619.42 603.24 623.15 590.22 624.62 587.9C626.09 585.57 628.6 583.83 631.29 584.56C633.98 585.29 646.64 592.24 649.08 594.57C651.53 596.89 654.02 602.75 653.53 605.69C653.04 608.62 647.57 618.59 644.63 621.25C641.7 623.92 630.76 628.97 626.84 629.92C622.93 630.88 610.77 632.1 609.05 629.92C607.34 627.75 610.3 612.8 611.28 610.13C612.26 607.47 616.48 608.13 617.95 605.69Z" fill="url(#g34)"/>
<path d="M591.27 664.47C591.27 659.58 597.96 642.68 600.16 637.79C602.36 632.9 609.08 620.49 611.28 620C613.48 619.51 618.22 629.67 620.17 633.34C622.13 637.01 627.72 648.46 629.07 653.36C630.41 658.25 633.14 671.7 632.4 677.82C631.67 683.93 624.72 706.75 622.4 708.95C620.07 711.15 613.72 700.76 611.28 697.83C608.83 694.89 602.36 685.93 600.16 682.26C597.96 678.59 591.27 669.37 591.27 664.47Z" fill="url(#g35)"/>
<path d="M617.95 620C619.91 619.27 641.58 618.78 644.63 620C647.69 621.22 647.7 630.38 645.75 631.12C643.79 631.85 629.9 627.89 626.84 626.67C623.79 625.45 615.99 620.73 617.95 620Z" fill="url(#g36)"/>
<path d="M573.48 708.95C572.99 706.01 582.15 693.36 584.59 691.16C587.04 688.96 594.25 687.47 595.71 688.93C597.18 690.4 598.67 701.32 597.94 704.5C597.2 707.68 591.73 717.35 589.04 717.84C586.35 718.33 573.96 711.88 573.48 708.95Z" fill="url(#g37)"/>
<path d="M624.62 695.61C624.87 693.65 633.78 688.69 635.74 688.93C637.7 689.18 642.66 695.87 642.41 697.83C642.17 699.79 635.47 706.97 633.52 706.72C631.56 706.48 624.38 697.56 624.62 695.61Z" fill="url(#g38)"/>
</g>
<rect x="617.4" y="815" width="71" height="1.6" fill="#fff"/>
</g>
<g clip-path="url(#cC)">
<rect x="54" y="853" width="635" height="394" fill="url(#gC)"/>
<rect x="54" y="853" width="635" height="394" filter="url(#grain)" opacity="0.10"/>
<g filter="url(#soft)">
<g filter="url(#soft2)"><ellipse cx="150" cy="1225" rx="170" ry="35" fill="#2e2e30" opacity="0.7"/><ellipse cx="330" cy="1170" rx="40" ry="50" fill="#262628" opacity="0.6"/><ellipse cx="110" cy="1000" rx="70" ry="120" fill="#262629" opacity="0.7"/><ellipse cx="250" cy="905" rx="120" ry="40" fill="#27272a" opacity="0.7"/><ellipse cx="480" cy="900" rx="130" ry="40" fill="#222225" opacity="0.7"/><ellipse cx="640" cy="1000" rx="60" ry="120" fill="#0d0d0f" opacity="0.8"/><ellipse cx="500" cy="1080" rx="50" ry="70" fill="#0d0d0f" opacity="0.8"/><ellipse cx="560" cy="1235" rx="160" ry="30" fill="#0c0c0e" opacity="0.9"/><ellipse cx="420" cy="1215" rx="60" ry="25" fill="#262628" opacity="0.8"/></g>
<g filter="url(#soft3)" opacity="0.55"><path d="M70 860 L150 1000 L180 1100" stroke="#343438" stroke-width="10" fill="none"/><path d="M250 870 L330 960 L420 1010" stroke="#2e2e32" stroke-width="12" fill="none"/><path d="M420 860 L470 960" stroke="#2c2c30" stroke-width="10" fill="none"/><path d="M560 880 L610 1000" stroke="#26262a" stroke-width="10" fill="none"/><path d="M60 1215 L200 1235" stroke="#38383c" stroke-width="10" fill="none"/><path d="M330 1100 L420 1060" stroke="#343438" stroke-width="10" fill="none"/></g>
<rect x="54" y="853" width="635" height="394" filter="url(#grain)" opacity="0.16"/>
<path d="M82.24 1133.4C84.02 1124.95 87.58 1118.94 98.92 1113.38C110.26 1107.82 122.05 1106.93 138.95 1105.6C155.85 1104.27 170.52 1104.71 183.42 1106.71C196.32 1108.71 200.77 1110.27 203.44 1115.61C206.1 1120.94 199.88 1117.38 196.76 1133.4C193.65 1149.41 190.54 1179.65 187.87 1195.66C185.2 1211.67 190.98 1207.67 183.42 1213.45C175.86 1219.23 163.85 1222.79 150.07 1224.57C136.28 1226.35 123.38 1225.46 114.49 1222.34C105.59 1219.23 110.48 1222.34 105.59 1209C100.7 1195.66 94.7 1170.75 90.03 1155.63C85.36 1140.51 80.46 1141.85 82.24 1133.4Z" fill="url(#g39)"/>
<path d="M205.66 1120.05C206.99 1114.27 210.11 1114.27 219 1111.16C227.9 1108.05 235.01 1105.82 250.13 1104.49C265.25 1103.15 282.38 1102.26 294.61 1104.49C306.84 1106.71 308.62 1106.27 311.29 1115.61C313.95 1124.95 310.4 1135.17 307.95 1151.19C305.5 1167.2 302.61 1183.21 299.05 1195.66C295.5 1208.11 297.72 1208.11 290.16 1213.45C282.6 1218.79 272.37 1221.9 261.25 1222.34C250.13 1222.79 242.13 1223.23 234.57 1215.67C227.01 1208.11 227.9 1199.66 223.45 1184.54C219 1169.42 215.89 1152.96 212.33 1140.07C208.77 1127.17 204.33 1125.84 205.66 1120.05Z" fill="url(#g40)"/>
<path d="M344.43 1111.16C346.66 1105.82 353.33 1104.93 360 1102.26C366.67 1099.6 364.45 1098.71 377.79 1097.82C391.13 1096.93 412.03 1096.04 426.71 1097.82C441.39 1099.6 447.17 1100.48 451.17 1106.71C455.17 1112.94 449.39 1115.61 446.72 1128.95C444.06 1142.29 440.5 1160.08 437.83 1173.42C435.16 1186.76 440.05 1188.99 433.38 1195.66C426.71 1202.33 416.93 1205 404.47 1206.78C392.02 1208.56 378.68 1205.89 371.12 1204.55C363.56 1203.22 369.34 1208.56 366.67 1200.11C364 1191.66 361.33 1176.54 357.78 1162.3C354.22 1148.07 351.55 1139.18 348.88 1128.95C346.21 1118.72 342.21 1116.5 344.43 1111.16Z" fill="url(#g41)"/>
<path d="M476.74 1106.71C478.97 1096.04 481.19 1099.82 493.42 1097.82C505.65 1095.81 524.55 1094.93 537.9 1096.7C551.24 1098.48 553.24 1101.15 560.13 1106.71C567.03 1112.27 572.36 1117.83 572.36 1124.5C572.36 1131.17 563.47 1130.28 560.13 1140.07C556.8 1149.85 557.91 1162.3 555.69 1173.42C553.46 1184.54 557.02 1189.43 549.01 1195.66C541.01 1201.89 528.11 1204.55 515.66 1204.55C503.21 1204.55 493.42 1206.33 486.75 1195.66C480.08 1184.99 484.31 1168.97 482.3 1151.19C480.3 1133.4 474.52 1117.38 476.74 1106.71Z" fill="url(#g42)"/>
<path d="M576.81 1102.26C578.59 1093.37 579.03 1097.15 593.49 1095.59C607.94 1094.04 632.63 1092.26 649.08 1094.48C665.54 1096.7 669.09 1101.6 675.77 1106.71C682.44 1111.83 682.44 1111.16 682.44 1120.05C682.44 1128.95 678.88 1138.29 675.77 1151.19C672.65 1164.08 672.21 1174.76 666.87 1184.54C661.53 1194.33 659.31 1196.99 649.08 1200.11C638.85 1203.22 627.29 1202.78 615.73 1200.11C604.16 1197.44 597.49 1198.77 591.27 1186.76C585.04 1174.76 587.48 1156.97 584.59 1140.07C581.7 1123.17 575.03 1111.16 576.81 1102.26Z" fill="url(#g42)"/>
<path d="M94.47 1128.95C95.81 1121.61 93.14 1121.61 107.82 1115.61C122.49 1109.6 120.71 1110.6 143.4 1108.93C166.08 1107.27 166.74 1107.71 183.42 1110.05C200.1 1112.38 201.66 1109.71 198.99 1116.72C196.32 1123.72 193.87 1126.06 174.53 1133.4C155.18 1140.73 155.85 1139.18 134.5 1141.18C113.15 1143.18 115.38 1143.74 103.37 1140.07C91.36 1136.4 93.14 1136.29 94.47 1128.95Z" fill="#0c0c0d"/>
<path d="M219 1124.5C219 1118.16 217.22 1119.5 227.9 1114.49C238.57 1109.49 235.23 1109.82 254.58 1107.82C273.93 1105.82 277.04 1105.15 292.38 1107.82C307.73 1110.49 308.39 1109.05 305.73 1116.72C303.06 1124.39 300.17 1126.39 283.49 1133.4C266.81 1140.4 266.81 1139.4 250.13 1140.07C233.46 1140.73 237.24 1140.29 227.9 1135.62C218.56 1130.95 219 1130.84 219 1124.5Z" fill="#0c0c0d"/>
<path d="M360 1106.71C366.67 1101.04 362.22 1102.82 382.24 1101.15C402.25 1099.48 407.36 1099.15 426.71 1101.15C446.06 1103.15 446.72 1102.15 446.72 1107.82C446.72 1113.49 446.06 1115.05 426.71 1120.05C407.36 1125.06 402.25 1124.5 382.24 1124.5C362.22 1124.5 366.67 1125.39 360 1120.05C353.33 1114.72 353.33 1112.38 360 1106.71Z" fill="#0c0c0d"/>
<path d="M484.53 1120.05C484.53 1114.05 485.19 1114.72 504.54 1113.38C523.89 1112.05 532.34 1111.6 549.01 1115.61C565.69 1119.61 563.47 1121.39 560.13 1126.72C556.8 1132.06 554.57 1131.39 537.9 1133.4C521.22 1135.4 520.55 1137.4 504.54 1133.4C488.53 1129.39 484.53 1126.06 484.53 1120.05Z" fill="#2e251d"/>
<path d="M589.04 1108.93C595.71 1104.93 602.16 1103.82 626.84 1104.49C651.53 1105.15 656.64 1106.49 671.32 1111.16C686 1115.83 682.44 1116.05 675.77 1120.05C669.09 1124.06 670.43 1125.17 649.08 1124.5C627.73 1123.83 622.62 1122.5 604.61 1117.83C586.6 1113.16 582.37 1112.94 589.04 1108.93Z" fill="#241d18"/>
<path d="M92.25 1144.51C98.25 1133.84 104.04 1148.96 123.38 1148.96C142.73 1148.96 149.4 1134.51 156.74 1144.51C164.08 1154.52 159.85 1166.97 147.84 1182.32C135.84 1197.66 130.05 1194.99 116.71 1195.66C103.37 1196.33 110.71 1199.88 103.37 1184.54C96.03 1169.2 86.25 1155.19 92.25 1144.51Z" fill="#5a5a5d" fill-opacity="0.55"/>
<path d="M223.45 1146.74C228.79 1136.73 234.79 1151.19 250.13 1151.19C265.48 1151.19 268.59 1133.4 274.59 1146.74C280.6 1160.08 280.15 1178.31 270.15 1195.66C260.14 1213 252.58 1207.89 241.24 1204.55C229.9 1201.22 237.68 1201.89 232.34 1184.54C227.01 1167.2 218.11 1156.74 223.45 1146.74Z" fill="#4c4c4f" fill-opacity="0.5"/>
<path d="M368.89 1146.74C374.23 1135.4 385.13 1151.85 404.47 1151.19C423.82 1150.52 426.71 1135.17 433.38 1144.51C440.05 1153.85 440.72 1168.97 426.71 1182.32C412.7 1195.66 404.03 1199.66 386.68 1188.99C369.34 1178.31 363.56 1158.08 368.89 1146.74Z" fill="#38383a" fill-opacity="0.6"/>
<path d="M488.97 1144.51C494.31 1132.51 501.43 1147.4 520.11 1146.74C538.79 1146.07 544.57 1131.62 551.24 1142.29C557.91 1152.96 557.02 1168.97 542.34 1182.32C527.67 1195.66 518.33 1198.11 502.32 1186.76C486.31 1175.42 483.64 1156.52 488.97 1144.51Z" fill="#363638" fill-opacity="0.6"/>
<path d="M595.71 1137.84C602.38 1124.5 609.94 1139.18 631.29 1137.84C652.64 1136.51 659.53 1121.39 666.87 1133.4C674.21 1145.4 673.1 1163.19 655.75 1177.87C638.41 1192.55 627.07 1194.33 609.05 1182.32C591.04 1170.31 589.04 1151.19 595.71 1137.84Z" fill="#363638" fill-opacity="0.6"/>
<path d="M87.8 1137.84C99.48 1139.51 116.16 1144.51 134.5 1144.51C152.85 1144.51 154.51 1139.51 161.19 1137.84" fill="none" stroke="#9a9a9c" stroke-width="2.2" stroke-linecap="round" stroke-opacity="0.7"/>
<path d="M212.33 1133.4C221.78 1135.34 226.23 1142.29 250.13 1141.18C274.04 1140.07 293.5 1132.01 307.95 1128.95" fill="none" stroke="#8a8a8c" stroke-width="1.8" stroke-linecap="round" stroke-opacity="0.7"/>
<path d="M110.04 1217.9C120.05 1218.73 132.28 1222.34 150.07 1221.23C167.86 1220.12 173.42 1215.39 181.2 1213.45" fill="none" stroke="#6a6a6c" stroke-width="1.8" stroke-linecap="round" stroke-opacity="0.8"/>
<path d="M234.57 1213.45C241.24 1214.84 247.35 1219.29 261.25 1219.01C275.15 1218.73 282.93 1214 290.16 1212.34" fill="none" stroke="#6a6a6c" stroke-width="1.8" stroke-linecap="round" stroke-opacity="0.8"/>
<path d="M360 1128.95C371.12 1130.06 383.35 1133.95 404.47 1133.4C425.6 1132.84 434.49 1128.39 444.5 1126.72" fill="none" stroke="#3a3a3c" stroke-width="1.4" stroke-linecap="round" stroke-opacity="0.8"/>
<path d="M488.97 1193.44C495.65 1195.1 500.65 1200.11 515.66 1200.11C530.67 1200.11 540.68 1195.1 549.01 1193.44" fill="none" stroke="#48484a" stroke-width="1.8" stroke-linecap="round" stroke-opacity="0.8"/>
<path d="M591.27 1184.54C597.38 1187.32 601.27 1192.88 615.73 1195.66C630.18 1198.44 640.74 1195.66 649.08 1195.66" fill="none" stroke="#404042" stroke-width="1.6" stroke-linecap="round" stroke-opacity="0.8"/>
<path d="M95.59 1137.84C94.92 1132.84 96.36 1131.84 103.37 1124.5C110.37 1117.16 110.93 1114.05 118.93 1113.38C126.94 1112.72 128.72 1114.27 130.05 1122.28C131.39 1130.28 130.72 1134.4 123.38 1140.07C116.04 1145.74 113.93 1141.85 105.59 1141.18C97.25 1140.51 96.25 1142.85 95.59 1137.84Z" fill="#5d8a48"/>
<path d="M136.72 1126.72C136.06 1118.05 139.62 1116.5 145.62 1111.16C151.62 1105.82 148.07 1106.27 156.74 1108.93C165.41 1111.6 166.52 1114.05 174.53 1120.05C182.53 1126.06 186.09 1123.61 183.42 1128.95C180.75 1134.29 176.31 1134.51 165.63 1137.84C154.96 1141.18 156.52 1143.4 147.84 1140.07C139.17 1136.73 137.39 1135.4 136.72 1126.72Z" fill="#5a8a44"/>
<path d="M145.62 1124.5C144.95 1117.83 148.51 1113.38 154.51 1113.38C160.52 1113.38 164.97 1117.83 165.63 1124.5C166.3 1131.17 162.74 1135.62 156.74 1135.62C150.73 1135.62 146.29 1131.17 145.62 1124.5Z" fill="#7a9a68"/>
<path d="M247.91 1135.62C244.57 1130.95 242.8 1129.17 250.13 1124.5C257.47 1119.83 259.03 1119.39 272.37 1120.05C285.71 1120.72 291.27 1122.72 294.61 1126.72C297.94 1130.73 293.5 1129.39 283.49 1133.4C273.48 1137.4 271.93 1139.4 261.25 1140.07C250.58 1140.73 251.25 1140.29 247.91 1135.62Z" fill="#8a8a42"/>
<path d="M225.67 1131.17C225.01 1125.84 232.34 1120.72 239.01 1120.05C245.69 1119.39 247.24 1123.61 247.91 1128.95C248.58 1134.29 247.91 1137.18 241.24 1137.84C234.57 1138.51 226.34 1136.51 225.67 1131.17Z" fill="#8a9080"/>
<path d="M263.48 1122.28C260.81 1118.27 268.15 1114.72 276.82 1113.38C285.49 1112.05 289.72 1113.83 292.38 1117.83C295.05 1121.83 294.39 1125.39 285.71 1126.72C277.04 1128.06 266.14 1126.28 263.48 1122.28Z" fill="#9a9a78"/>
<path d="M359.09 1111.16C361.36 1106.49 369.99 1105.82 380 1104.49C390 1103.15 388.71 1102.04 392.45 1106.71C396.19 1111.38 398.45 1116.05 392.45 1120.05C386.45 1124.06 382.44 1122.72 372.44 1120.05C362.43 1117.38 356.83 1115.83 359.09 1111.16Z" fill="#8a9a6a"/>
<path d="M362.22 1111.16C364.23 1107.49 364 1107.93 373.34 1105.6C382.68 1103.26 385.35 1101.04 393.36 1103.38C401.36 1105.71 403.36 1108.38 400.03 1113.38C396.69 1118.39 392.24 1118.72 382.24 1120.05C372.23 1121.39 372.68 1120.5 366.67 1117.83C360.67 1115.16 360.22 1114.83 362.22 1111.16Z" fill="#84967a"/>
<path d="M406.7 1111.16C407.36 1105.49 408.25 1106.27 415.59 1105.6C422.93 1104.93 427.82 1103.93 431.16 1108.93C434.49 1113.94 432.05 1117.61 426.71 1122.28C421.37 1126.95 419.37 1127.84 413.37 1124.5C407.36 1121.17 406.03 1116.83 406.7 1111.16Z" fill="#6a8a58"/>
<path d="M515.66 1133.4C510.99 1128.73 516.1 1121.83 520.11 1117.83C524.11 1113.83 524.33 1115.38 529 1120.05C533.67 1124.72 539.68 1129.39 535.67 1133.4C531.67 1137.4 520.33 1138.07 515.66 1133.4Z" fill="#b8a888"/>
<path d="M486.75 1120.05C488.75 1116.72 494.09 1114.27 500.09 1115.61C506.1 1116.94 508.77 1121.17 506.76 1124.5C504.76 1127.84 499.43 1128.06 493.42 1126.72C487.42 1125.39 484.75 1123.39 486.75 1120.05Z" fill="#9a7a5a"/>
<path d="M125.61 982.87C125.88 984.54 125.61 978.42 126.72 989.54C127.83 1000.66 128.39 1008.5 130.05 1027.34C131.72 1046.19 132.56 1055.53 133.39 1064.92" fill="none" stroke="#a2a85c" stroke-width="2" stroke-linecap="round"/>
<path d="M131.17 1040C131.55 1051.12 132.17 1059.46 132.72 1084.47C133.28 1109.49 133.22 1126.17 133.39 1140.07" fill="none" stroke="#a2a85c" stroke-width="2.2" stroke-linecap="round"/>
<path d="M271.26 1005.11C270.7 1012.33 270.7 1019.06 269.03 1034.01C267.37 1048.97 265.7 1057.2 264.59 1064.92" fill="none" stroke="#a2a85c" stroke-width="2" stroke-linecap="round"/>
<path d="M269.03 1040C267.65 1051.12 266.53 1063.9 263.48 1084.47C260.42 1105.04 258.47 1112.83 256.8 1122.28" fill="none" stroke="#a2a85c" stroke-width="2.2" stroke-linecap="round"/>
<path d="M393.36 987.32C393.91 996.21 394.19 1003.49 395.58 1022.9C396.97 1042.3 398.08 1054.42 398.91 1064.92" fill="none" stroke="#a2a85c" stroke-width="2" stroke-linecap="round"/>
<path d="M395.58 1040C396.41 1051.12 397.25 1063.9 398.91 1084.47C400.58 1105.04 401.42 1112.83 402.25 1122.28" fill="none" stroke="#a2a85c" stroke-width="2.2" stroke-linecap="round"/>
<path d="M125.61 983.98C122.83 981.48 119.49 977.31 114.49 973.97C109.48 970.64 107.82 971.47 105.59 970.64" fill="none" stroke="#9a9070" stroke-width="1.2" stroke-linecap="round"/>
<path d="M127.83 983.98 L138.95 976.2" fill="none" stroke="#9a9070" stroke-width="1.2" stroke-linecap="round"/>
<path d="M270.15 1007.33C267.37 1002.88 264.03 990.1 259.03 989.54C254.02 988.98 252.36 1001.22 250.13 1005.11" fill="none" stroke="#9a9070" stroke-width="1.2" stroke-linecap="round"/>
<path d="M271.26 1005.11C271.54 1001.77 269.87 995.1 272.37 991.76C274.87 988.43 279.04 991.76 281.27 991.76" fill="none" stroke="#9a9070" stroke-width="1.2" stroke-linecap="round"/>
<path d="M267.92 1022.9C265.14 1020.12 262.36 1016.23 256.8 1011.78C251.25 1007.33 248.47 1006.77 245.69 1005.11" fill="none" stroke="#9a9070" stroke-width="1.2" stroke-linecap="round"/>
<path d="M393.36 989.54C392.24 986.76 389.46 981.76 388.91 978.42C388.35 975.09 390.58 976.75 391.13 976.2" fill="none" stroke="#9a9070" stroke-width="1.2" stroke-linecap="round"/>
<path d="M393.36 989.54 L402.25 980.65" fill="none" stroke="#9a9070" stroke-width="1.2" stroke-linecap="round"/>
<path d="M394.47 1022.9 L404.47 1011.78" fill="none" stroke="#9a9070" stroke-width="1.2" stroke-linecap="round"/>
<path d="M394.47 1034.01 L384.46 1022.9" fill="none" stroke="#9a9070" stroke-width="1.2" stroke-linecap="round"/>
<path d="M504.54 966.19C506.21 972.03 508.99 975.36 511.21 989.54C513.44 1003.72 513.99 1004.05 513.44 1022.9C512.88 1041.74 510.1 1054.42 508.99 1064.92" fill="none" stroke="#8c7868" stroke-width="1.8" stroke-linecap="round"/>
<path d="M507.88 1040C508.71 1046.67 509.82 1055.57 511.21 1066.68C512.6 1077.8 512.88 1080.03 513.44 1084.47" fill="none" stroke="#8c7868" stroke-width="1.8" stroke-linecap="round"/>
<path d="M504.54 966.19C502.87 967.03 500.65 965.36 497.87 969.53C495.09 973.7 494.53 979.53 493.42 982.87" fill="none" stroke="#8c7868" stroke-width="1.2" stroke-linecap="round"/>
<path d="M504.54 967.3C507.32 969.53 511.77 971.2 515.66 976.2C519.55 981.2 518.99 984.54 520.11 987.32" fill="none" stroke="#8c7868" stroke-width="1.2" stroke-linecap="round"/>
<path d="M626.84 989.54C626.57 998.99 625.73 1008.5 625.73 1027.34C625.73 1046.19 626.57 1055.53 626.84 1064.92" fill="none" stroke="#8c7868" stroke-width="1.8" stroke-linecap="round"/>
<path d="M625.73 1040C625.45 1049.45 624.9 1058.9 624.62 1077.8C624.34 1096.7 624.62 1106.16 624.62 1115.61" fill="none" stroke="#8c7868" stroke-width="1.8" stroke-linecap="round"/>
<path d="M626.84 989.54C622.4 991.21 615.17 992.88 609.05 996.21C602.94 999.55 604.05 1001.22 602.38 1002.88" fill="none" stroke="#8c7868" stroke-width="1.2" stroke-linecap="round"/>
<path d="M626.84 989.54C630.18 988.98 634.63 987.32 640.19 987.32C645.75 987.32 646.86 988.98 649.08 989.54" fill="none" stroke="#8c7868" stroke-width="1.2" stroke-linecap="round"/>
<path d="M56.67 973.97C57.16 973.49 68.08 967.29 72.24 966.19C76.4 965.09 90.07 963.6 94.47 963.97C98.88 964.34 109.08 967.69 112.26 969.53C115.44 971.36 124.12 980.28 123.38 980.65C122.65 981.01 110 974.21 105.59 972.86C101.19 971.52 87.51 968.66 83.36 968.42C79.2 968.17 70.72 970.03 67.79 970.64C64.85 971.25 56.18 974.46 56.67 973.97Z" fill="url(#g43)"/>
<path d="M105.59 967.3C106.57 965.71 127.85 963.86 130.05 965.08C132.25 966.3 126.58 976.83 125.61 978.42C124.63 980.01 123.36 980.76 121.16 979.53C118.96 978.31 104.61 968.89 105.59 967.3Z" fill="url(#g44)"/>
<path d="M130.05 982.87C130.3 981.52 137.75 968.15 141.17 966.19C144.6 964.24 157.03 965.69 161.19 965.08C165.34 964.47 174.82 959.78 178.97 960.63C183.13 961.49 199.48 971.64 198.99 972.86C198.5 974.09 179.42 971.87 174.53 971.75C169.64 971.63 158.43 971.02 154.51 971.75C150.6 972.48 141.64 977.2 138.95 978.42C136.26 979.65 129.81 984.22 130.05 982.87Z" fill="url(#g43)"/>
<path d="M181.2 1001.77C181.2 1000.3 196.08 993.23 201.21 991.76C206.35 990.3 223.49 988.43 227.9 988.43C232.3 988.43 238.79 989.93 241.24 991.76C243.68 993.6 251.6 1003.76 250.13 1005.11C248.67 1006.45 233.28 1003.99 227.9 1003.99C222.52 1003.99 206.35 1005.35 201.21 1005.11C196.08 1004.86 181.2 1003.24 181.2 1001.77Z" fill="url(#g43)"/>
<path d="M225.67 977.31C226.9 976.58 241.53 974.46 245.69 973.97C249.84 973.49 261.4 971.4 263.48 972.86C265.55 974.33 266.06 985.97 264.59 987.32C263.12 988.66 253.44 985.83 250.13 985.09C246.83 984.36 237.26 981.5 234.57 980.65C231.88 979.79 224.45 978.04 225.67 977.31Z" fill="url(#g45)"/>
<path d="M264.59 985.09C265.08 982.53 271.29 969.13 274.59 966.19C277.9 963.26 293.38 957.8 294.61 958.41C295.83 959.02 287.67 969.06 285.71 971.75C283.76 974.44 278.53 980.91 276.82 982.87C275.11 984.83 271.49 989.3 270.15 989.54C268.8 989.79 264.1 987.66 264.59 985.09Z" fill="url(#g45)"/>
<path d="M279.04 993.99C279.53 992.52 286.74 980.99 290.16 978.42C293.58 975.85 304.3 971.5 310.17 970.64C316.04 969.78 342.31 970.03 343.53 970.64C344.75 971.25 326.18 974.85 321.29 976.2C316.4 977.54 302.97 981.16 299.05 982.87C295.14 984.58 287.91 990.54 285.71 991.76C283.51 992.99 278.55 995.46 279.04 993.99Z" fill="url(#g43)"/>
<path d="M270.15 1020.67C270.39 1019.08 274.13 1012.26 276.82 1010.67C279.51 1009.08 290.69 1006.83 294.61 1006.22C298.52 1005.61 311.17 1004.25 312.4 1005.11C313.62 1005.96 308.42 1012.53 305.73 1014C303.04 1015.47 291.36 1017.23 287.94 1018.45C284.51 1019.67 276.55 1024.88 274.59 1025.12C272.64 1025.36 269.9 1022.26 270.15 1020.67Z" fill="url(#g44)"/>
<path d="M367.99 958.41C368.82 957.92 378.29 959.41 380 960.63C381.71 961.86 384.39 969.04 383.56 969.53C382.72 970.02 374.15 966.3 372.44 965.08C370.72 963.86 367.16 958.9 367.99 958.41Z" fill="url(#g45)"/>
<path d="M332.41 990.65C331.68 990.04 344.97 984.96 350.2 983.98C355.43 983 376.33 981.02 380 981.76C383.67 982.49 386.1 989.8 383.56 990.65C381.01 991.51 362.5 989.54 356.87 989.54C351.25 989.54 333.14 991.26 332.41 990.65Z" fill="url(#g43)"/>
<path d="M326.85 1034.01C326.61 1033.16 333.07 1024.85 336.86 1022.9C340.65 1020.94 356.57 1016.84 361.32 1016.23C366.06 1015.61 377.55 1016.6 380 1017.34C382.44 1018.07 386.1 1022.04 383.56 1022.9C381.01 1023.75 361.76 1024.26 356.87 1025.12C351.98 1025.98 342.38 1029.7 339.08 1030.68C335.78 1031.66 327.1 1034.87 326.85 1034.01Z" fill="url(#g43)"/>
<path d="M368.89 959.52C368.16 957.93 373.36 956.69 375.57 957.3C377.77 957.91 386.95 963.25 388.91 965.08C390.87 966.91 393.11 972.26 393.36 973.97C393.6 975.69 392.35 980.89 391.13 980.65C389.91 980.4 384.68 974.07 382.24 971.75C379.79 969.43 369.63 961.11 368.89 959.52Z" fill="url(#g45)"/>
<path d="M393.36 969.53C394.09 967.69 401.54 964.34 404.47 963.97C407.41 963.6 419.55 965.09 420.04 966.19C420.53 967.29 411.37 972.38 408.92 973.97C406.48 975.56 399.52 981.14 397.8 980.65C396.09 980.16 392.62 971.36 393.36 969.53Z" fill="url(#g44)"/>
<path d="M400.03 982.87C399.29 982.14 405.99 975.2 408.92 973.97C411.86 972.75 422.06 971.02 426.71 971.75C431.36 972.48 450.44 979.91 451.17 980.65C451.91 981.38 437.3 978.42 433.38 978.42C429.47 978.42 419.26 980.16 415.59 980.65C411.92 981.14 400.76 983.6 400.03 982.87Z" fill="url(#g43)"/>
<path d="M360 983.98C361.47 983.37 370.9 982.26 373.34 982.87C375.79 983.48 382.24 988.81 382.24 989.54C382.24 990.27 375.79 989.66 373.34 989.54C370.9 989.42 361.47 989.04 360 988.43C358.53 987.82 358.53 984.59 360 983.98Z" fill="url(#g43)"/>
<path d="M404.47 1010.67C403.98 1010.18 407.97 1005.84 411.15 1005.11C414.33 1004.37 429.59 1004.97 433.38 1003.99C437.17 1003.02 443.53 995.48 445.61 996.21C447.69 996.95 453.63 1009.2 452.28 1010.67C450.94 1012.13 437.42 1009.68 433.38 1009.55C429.35 1009.43 418.77 1009.43 415.59 1009.55C412.41 1009.68 404.96 1011.16 404.47 1010.67Z" fill="url(#g43)"/>
<path d="M360 1018.45C361.47 1017.47 370.16 1015.98 373.34 1016.23C376.52 1016.47 387.93 1019.69 388.91 1020.67C389.89 1021.65 385.42 1024.63 382.24 1025.12C379.06 1025.61 362.45 1025.85 360 1025.12C357.55 1024.39 358.53 1019.43 360 1018.45Z" fill="url(#g43)"/>
<path d="M480.08 991.76C480.32 990.05 485.28 986.07 486.75 985.09C488.22 984.11 492.2 981.16 493.42 982.87C494.65 984.58 497.87 997.72 497.87 1000.66C497.87 1003.59 494.89 1009.55 493.42 1009.55C491.95 1009.55 486 1002.62 484.53 1000.66C483.06 998.7 479.84 993.48 480.08 991.76Z" fill="url(#g46)"/>
<path d="M491.2 978.42C491.44 976.71 494.18 973.49 495.65 973.97C497.11 974.46 502.83 980.91 504.54 982.87C506.25 984.83 511.21 989.32 511.21 991.76C511.21 994.21 506.01 1003.39 504.54 1005.11C503.07 1006.82 499.09 1009.04 497.87 1007.33C496.65 1005.62 494.16 992.72 493.42 989.54C492.69 986.36 490.95 980.13 491.2 978.42Z" fill="url(#g47)"/>
<path d="M513.44 989.54C514.41 986.36 518.64 984.11 520.11 985.09C521.57 986.07 526.29 995.26 526.78 998.44C527.27 1001.62 525.78 1011.07 524.55 1014C523.33 1016.94 517.13 1025.12 515.66 1025.12C514.19 1025.12 511.46 1017.92 511.21 1014C510.97 1010.09 512.46 992.72 513.44 989.54Z" fill="url(#g46)"/>
<path d="M451.17 1045.13C451.42 1041.95 459.6 1026.08 462.29 1022.9C464.98 1019.72 472.21 1016.47 475.63 1016.23C479.06 1015.98 491.71 1018.72 493.42 1020.67C495.13 1022.63 492.18 1031.32 491.2 1034.01C490.22 1036.71 485.02 1042.69 484.53 1045.13C484.04 1047.58 487.73 1054.54 486.75 1056.25C485.77 1057.96 478.57 1061.19 475.63 1060.7C472.7 1060.21 462.76 1053.52 460.07 1051.8C457.38 1050.09 450.93 1048.31 451.17 1045.13Z" fill="url(#g46)"/>
<path d="M495.65 1038.46C495.4 1034.79 496.89 1021.63 497.87 1018.45C498.85 1015.27 503.32 1009.06 504.54 1009.55C505.76 1010.04 508.74 1018.98 508.99 1022.9C509.23 1026.81 507.74 1041.95 506.76 1045.13C505.79 1048.31 501.32 1052.54 500.09 1051.8C498.87 1051.07 495.89 1042.13 495.65 1038.46Z" fill="url(#g48)"/>
<path d="M513.44 1064.92C511.48 1062.75 512.7 1047.56 513.44 1045.13C514.17 1042.71 518.39 1041.93 520.11 1042.91C521.82 1043.89 527.78 1051.61 529 1054.03C530.22 1056.45 532.94 1063.73 531.23 1064.92C529.51 1066.12 515.39 1067.1 513.44 1064.92Z" fill="url(#g49)"/>
<path d="M452.28 1046.67C451.31 1045.2 454.3 1040.73 457.84 1040C461.39 1039.27 482.08 1039.02 484.53 1040C486.97 1040.98 479.96 1046.94 480.08 1048.89C480.2 1050.85 485.88 1056.44 485.64 1057.79C485.39 1059.13 479.94 1061.61 477.86 1061.13C475.78 1060.64 469.55 1054.93 466.74 1053.34C463.92 1051.75 453.26 1048.14 452.28 1046.67Z" fill="url(#g49)"/>
<path d="M495.65 1040C496.38 1039.02 503.56 1038.78 504.54 1040C505.52 1041.22 505.27 1050.14 504.54 1051.12C503.81 1052.1 498.85 1050.12 497.87 1048.89C496.89 1047.67 494.91 1040.98 495.65 1040Z" fill="url(#g46)"/>
<path d="M513.44 1044.45C514.17 1042.74 522.47 1044.47 524.55 1046.67C526.63 1048.87 531.85 1061.28 532.34 1064.46C532.83 1067.64 529 1072.89 529 1075.58C529 1078.27 532.83 1086.35 532.34 1088.92C531.85 1091.49 526.39 1098.68 524.55 1098.93C522.72 1099.17 516.88 1093.96 515.66 1091.15C514.44 1088.33 513.19 1076.54 513.44 1073.36C513.68 1070.18 517.88 1065.42 517.88 1062.24C517.88 1059.06 512.7 1046.16 513.44 1044.45Z" fill="url(#g50)"/>
<path d="M485.64 1082.25C485.64 1080.91 491.34 1080.16 493.42 1081.14C495.5 1082.12 502.09 1091.02 504.54 1091.15C506.99 1091.27 513.95 1081.52 515.66 1082.25C517.37 1082.98 520.11 1094.15 520.11 1097.82C520.11 1101.49 516.39 1111.69 515.66 1115.61C514.93 1119.52 514.9 1132.91 513.44 1133.4C511.97 1133.88 504.27 1122.5 502.32 1120.05C500.36 1117.61 495.65 1113.36 495.65 1111.16C495.65 1108.96 502.56 1102 502.32 1100.04C502.07 1098.08 495.26 1095.33 493.42 1093.37C491.59 1091.41 485.64 1083.6 485.64 1082.25Z" fill="url(#g51)"/>
<path d="M632.4 980.65C632.65 979.06 637.62 973.46 640.19 971.75C642.76 970.04 651.11 966.43 655.75 965.08C660.4 963.73 680.24 958.79 682.44 959.52C684.64 960.25 676.74 969.43 675.77 971.75C674.79 974.07 675.74 979.18 673.54 980.65C671.34 982.11 659.67 984.48 655.75 985.09C651.84 985.7 640.53 986.69 637.96 986.21C635.39 985.72 632.16 982.24 632.4 980.65Z" fill="url(#g46)"/>
<path d="M646.86 989.54C647.35 988.32 657.51 987.93 660.2 987.32C662.89 986.71 669.12 982.76 671.32 983.98C673.52 985.2 680.7 996.36 680.21 998.44C679.72 1000.51 669.56 1002.88 666.87 1002.88C664.18 1002.88 657.95 999.9 655.75 998.44C653.55 996.97 646.37 990.76 646.86 989.54Z" fill="url(#g52)"/>
<path d="M577.92 1009.55C578.9 1007.6 586.11 1003.86 589.04 1002.88C591.98 1001.9 603.14 999.93 604.61 1000.66C606.08 1001.39 603.85 1007.35 602.38 1009.55C600.92 1011.76 592.98 1018.35 591.27 1020.67C589.55 1023 588.04 1030.68 586.82 1030.68C585.59 1030.68 581.13 1023 580.15 1020.67C579.17 1018.35 576.94 1011.51 577.92 1009.55Z" fill="url(#g46)"/>
<path d="M610.17 1029.57C609.68 1028.59 612.4 1018.92 613.5 1016.23C614.6 1013.53 618.71 1006.57 620.17 1005.11C621.64 1003.64 626.36 1001.42 626.84 1002.88C627.33 1004.35 625.6 1016 624.62 1018.45C623.64 1020.9 619.54 1023.9 617.95 1025.12C616.36 1026.34 610.66 1030.55 610.17 1029.57Z" fill="url(#g49)"/>
<path d="M611.28 1064.92C610.06 1063.48 618.46 1053.98 620.17 1051.8C621.89 1049.63 625.62 1043.69 626.84 1045.13C628.07 1046.58 633 1062.75 631.29 1064.92C629.58 1067.1 612.5 1066.37 611.28 1064.92Z" fill="url(#g49)"/>
<path d="M604.61 1071.13C605.34 1068.93 609.32 1066.91 611.28 1064.46C613.24 1062.01 620.44 1050.12 622.4 1048.89C624.35 1047.67 627.36 1050.41 629.07 1053.34C630.78 1056.28 636.25 1072.15 637.96 1075.58C639.68 1079 645.61 1083.5 644.63 1084.47C643.66 1085.45 631.27 1083.01 629.07 1084.47C626.87 1085.94 624.87 1095.13 624.62 1097.82C624.38 1100.51 627.58 1107.22 626.84 1108.93C626.11 1110.65 619.91 1114.12 617.95 1113.38C615.99 1112.65 610.52 1105.44 609.05 1102.26C607.59 1099.08 605.1 1087.9 604.61 1084.47C604.12 1081.05 603.87 1073.33 604.61 1071.13Z" fill="url(#g53)"/>
<path d="M611.28 1040C612.01 1039.02 620.2 1040 622.4 1040C624.6 1040 630.8 1039.02 631.29 1040C631.78 1040.98 628.56 1047.92 626.84 1048.89C625.13 1049.87 617.44 1049.87 615.73 1048.89C614.01 1047.92 610.54 1040.98 611.28 1040Z" fill="url(#g49)"/>
</g>
<rect x="609" y="1219.8" width="68" height="1.6" fill="#fff"/>
</g>
<defs><linearGradient id="g0" x1="0" y1="0" x2="1" y2="0"><stop offset="0" stop-color="#0d0d0d"/><stop offset="0.3" stop-color="#222222"/><stop offset="0.55" stop-color="#131313"/><stop offset="1" stop-color="#0b0b0b"/></linearGradient><linearGradient id="g1" x1="0.1" y1="0" x2="0.9" y2="1"><stop offset="0" stop-color="#73be47"/><stop offset="0.45" stop-color="#61a43a"/><stop offset="1" stop-color="#406c26"/></linearGradient><linearGradient id="g2" x1="0.1" y1="0" x2="0.9" y2="1"><stop offset="0" stop-color="#61ab3f"/><stop offset="0.45" stop-color="#519333"/><stop offset="1" stop-color="#356122"/></linearGradient><linearGradient id="g3" x1="0.1" y1="0" x2="0.9" y2="1"><stop offset="0" stop-color="#b5d462"/><stop offset="0.45" stop-color="#9cb852"/><stop offset="1" stop-color="#677936"/></linearGradient><linearGradient id="g4" x1="0.1" y1="0" x2="0.9" y2="1"><stop offset="0" stop-color="#417a35"/><stop offset="0.45" stop-color="#35682a"/><stop offset="1" stop-color="#23451c"/></linearGradient><linearGradient id="g5" x1="0.1" y1="0" x2="0.9" y2="1"><stop offset="0" stop-color="#88d054"/><stop offset="0.45" stop-color="#74b446"/><stop offset="1" stop-color="#4d772e"/></linearGradient><linearGradient id="g6" x1="0.1" y1="0" x2="0.9" y2="1"><stop offset="0" stop-color="#4f9137"/><stop offset="0.45" stop-color="#417c2c"/><stop offset="1" stop-color="#2b521d"/></linearGradient><linearGradient id="g7" x1="0.1" y1="0" x2="0.9" y2="1"><stop offset="0" stop-color="#a3de62"/><stop offset="0.45" stop-color="#8cc152"/><stop offset="1" stop-color="#5c7f36"/></linearGradient><linearGradient id="g8" x1="0.1" y1="0" x2="0.9" y2="1"><stop offset="0" stop-color="#5ead41"/><stop offset="0.45" stop-color="#4f9535"/><stop offset="1" stop-color="#346223"/></linearGradient><linearGradient id="g9" x1="0.1" y1="0" x2="0.9" y2="1"><stop offset="0" stop-color="#93be52"/><stop offset="0.45" stop-color="#7ea444"/><stop offset="1" stop-color="#536c2d"/></linearGradient><linearGradient id="g10" x1="0.1" y1="0" x2="0.9" y2="1"><stop offset="0" stop-color="#a1c260"/><stop offset="0.45" stop-color="#8aa850"/><stop offset="1" stop-color="#5b6f35"/></linearGradient><linearGradient id="g11" x1="0.1" y1="0" x2="0.9" y2="1"><stop offset="0" stop-color="#9ebb5d"/><stop offset="0.45" stop-color="#88a24e"/><stop offset="1" stop-color="#5a6b33"/></linearGradient><linearGradient id="g12" x1="0.1" y1="0" x2="0.9" y2="1"><stop offset="0" stop-color="#94c262"/><stop offset="0.45" stop-color="#7fa852"/><stop offset="1" stop-color="#546f36"/></linearGradient><linearGradient id="g13" x1="0.1" y1="0" x2="0.9" y2="1"><stop offset="0" stop-color="#a6cb72"/><stop offset="0.45" stop-color="#8fb060"/><stop offset="1" stop-color="#5e743f"/></linearGradient><linearGradient id="g14" x1="0.1" y1="0" x2="0.9" y2="1"><stop offset="0" stop-color="#a1c272"/><stop offset="0.45" stop-color="#8aa860"/><stop offset="1" stop-color="#5b6f3f"/></linearGradient><linearGradient id="g15" x1="0.1" y1="0" x2="0.9" y2="1"><stop offset="0" stop-color="#6fb247"/><stop offset="0.45" stop-color="#5e9a3a"/><stop offset="1" stop-color="#3e6626"/></linearGradient><linearGradient id="g16" x1="0.1" y1="0" x2="0.9" y2="1"><stop offset="0" stop-color="#8fac52"/><stop offset="0.45" stop-color="#7a9444"/><stop offset="1" stop-color="#51622d"/></linearGradient><linearGradient id="g17" x1="0.1" y1="0" x2="0.9" y2="1"><stop offset="0" stop-color="#7ac247"/><stop offset="0.45" stop-color="#68a83a"/><stop offset="1" stop-color="#456f26"/></linearGradient><linearGradient id="g18" x1="0.1" y1="0" x2="0.9" y2="1"><stop offset="0" stop-color="#9ac269"/><stop offset="0.45" stop-color="#84a858"/><stop offset="1" stop-color="#576f3a"/></linearGradient><linearGradient id="g19" x1="0.1" y1="0" x2="0.9" y2="1"><stop offset="0" stop-color="#9cc26d"/><stop offset="0.45" stop-color="#86a85c"/><stop offset="1" stop-color="#586f3d"/></linearGradient><linearGradient id="g20" x1="0.1" y1="0" x2="0.9" y2="1"><stop offset="0" stop-color="#6da145"/><stop offset="0.45" stop-color="#5c8a38"/><stop offset="1" stop-color="#3d5b25"/></linearGradient><linearGradient id="g21" x1="0.1" y1="0" x2="0.9" y2="1"><stop offset="0" stop-color="#7db04b"/><stop offset="0.45" stop-color="#6a983e"/><stop offset="1" stop-color="#466429"/></linearGradient><linearGradient id="g22" x1="0.1" y1="0" x2="0.9" y2="1"><stop offset="0" stop-color="#7db24e"/><stop offset="0.45" stop-color="#6a9a40"/><stop offset="1" stop-color="#46662a"/></linearGradient><linearGradient id="g23" x1="0.1" y1="0" x2="0.9" y2="1"><stop offset="0" stop-color="#76b949"/><stop offset="0.45" stop-color="#64a03c"/><stop offset="1" stop-color="#426a28"/></linearGradient><linearGradient id="g24" x1="0.1" y1="0" x2="0.9" y2="1"><stop offset="0" stop-color="#8fb562"/><stop offset="0.45" stop-color="#7a9c52"/><stop offset="1" stop-color="#516736"/></linearGradient><linearGradient id="g25" x1="0.1" y1="0" x2="0.9" y2="1"><stop offset="0" stop-color="#7db250"/><stop offset="0.45" stop-color="#6a9a42"/><stop offset="1" stop-color="#46662c"/></linearGradient><linearGradient id="g26" x1="0.1" y1="0" x2="0.9" y2="1"><stop offset="0" stop-color="#a3ae54"/><stop offset="0.45" stop-color="#8c9646"/><stop offset="1" stop-color="#5c632e"/></linearGradient><linearGradient id="g27" x1="0.1" y1="0" x2="0.9" y2="1"><stop offset="0" stop-color="#a1b972"/><stop offset="0.45" stop-color="#8aa060"/><stop offset="1" stop-color="#5b6a3f"/></linearGradient><linearGradient id="g28" x1="0.1" y1="0" x2="0.9" y2="1"><stop offset="0" stop-color="#9abe69"/><stop offset="0.45" stop-color="#84a458"/><stop offset="1" stop-color="#576c3a"/></linearGradient><linearGradient id="g29" x1="0.1" y1="0" x2="0.9" y2="1"><stop offset="0" stop-color="#a1c277"/><stop offset="0.45" stop-color="#8aa865"/><stop offset="1" stop-color="#5b6f43"/></linearGradient><linearGradient id="g30" x1="0.1" y1="0" x2="0.9" y2="1"><stop offset="0" stop-color="#8fb260"/><stop offset="0.45" stop-color="#7a9a50"/><stop offset="1" stop-color="#516635"/></linearGradient><linearGradient id="g31" x1="0.1" y1="0" x2="0.9" y2="1"><stop offset="0" stop-color="#9ebe74"/><stop offset="0.45" stop-color="#88a462"/><stop offset="1" stop-color="#5a6c41"/></linearGradient><linearGradient id="g32" x1="0.1" y1="0" x2="0.9" y2="1"><stop offset="0" stop-color="#9c9c4b"/><stop offset="0.45" stop-color="#86863e"/><stop offset="1" stop-color="#585829"/></linearGradient><linearGradient id="g33" x1="0.1" y1="0" x2="0.9" y2="1"><stop offset="0" stop-color="#9ca74b"/><stop offset="0.45" stop-color="#86903e"/><stop offset="1" stop-color="#585f29"/></linearGradient><linearGradient id="g34" x1="0.1" y1="0" x2="0.9" y2="1"><stop offset="0" stop-color="#a1ac4e"/><stop offset="0.45" stop-color="#8a9440"/><stop offset="1" stop-color="#5b622a"/></linearGradient><linearGradient id="g35" x1="0.1" y1="0" x2="0.9" y2="1"><stop offset="0" stop-color="#7fb250"/><stop offset="0.45" stop-color="#6c9a42"/><stop offset="1" stop-color="#47662c"/></linearGradient><linearGradient id="g36" x1="0.1" y1="0" x2="0.9" y2="1"><stop offset="0" stop-color="#a1b259"/><stop offset="0.45" stop-color="#8a9a4a"/><stop offset="1" stop-color="#5b6631"/></linearGradient><linearGradient id="g37" x1="0.1" y1="0" x2="0.9" y2="1"><stop offset="0" stop-color="#8fb569"/><stop offset="0.45" stop-color="#7a9c58"/><stop offset="1" stop-color="#51673a"/></linearGradient><linearGradient id="g38" x1="0.1" y1="0" x2="0.9" y2="1"><stop offset="0" stop-color="#6fa147"/><stop offset="0.45" stop-color="#5e8a3a"/><stop offset="1" stop-color="#3e5b26"/></linearGradient><linearGradient id="g39" x1="0" y1="0.2" x2="1" y2="0.5"><stop offset="0" stop-color="#3d3d40"/><stop offset="0.3" stop-color="#55555a"/><stop offset="0.55" stop-color="#37373a"/><stop offset="0.75" stop-color="#1c1c1d"/><stop offset="1" stop-color="#161617"/></linearGradient><linearGradient id="g40" x1="0" y1="0.2" x2="1" y2="0.5"><stop offset="0" stop-color="#353538"/><stop offset="0.3" stop-color="#4a4a4f"/><stop offset="0.55" stop-color="#303033"/><stop offset="0.75" stop-color="#18181a"/><stop offset="1" stop-color="#131314"/></linearGradient><linearGradient id="g41" x1="0" y1="0" x2="1" y2="0"><stop offset="0" stop-color="#19191b"/><stop offset="0.3" stop-color="#3c3c3f"/><stop offset="0.55" stop-color="#242426"/><stop offset="1" stop-color="#161617"/></linearGradient><linearGradient id="g42" x1="0" y1="0" x2="1" y2="0"><stop offset="0" stop-color="#181819"/><stop offset="0.3" stop-color="#39393c"/><stop offset="0.55" stop-color="#222224"/><stop offset="1" stop-color="#141416"/></linearGradient><linearGradient id="g43" x1="0.1" y1="0" x2="0.9" y2="1"><stop offset="0" stop-color="#7db959"/><stop offset="0.45" stop-color="#6aa04a"/><stop offset="1" stop-color="#466a31"/></linearGradient><linearGradient id="g44" x1="0.1" y1="0" x2="0.9" y2="1"><stop offset="0" stop-color="#6dac52"/><stop offset="0.45" stop-color="#5c9444"/><stop offset="1" stop-color="#3d622d"/></linearGradient><linearGradient id="g45" x1="0.1" y1="0" x2="0.9" y2="1"><stop offset="0" stop-color="#8cc764"/><stop offset="0.45" stop-color="#78ac54"/><stop offset="1" stop-color="#4f7237"/></linearGradient><linearGradient id="g46" x1="0.1" y1="0" x2="0.9" y2="1"><stop offset="0" stop-color="#f6e6bb"/><stop offset="0.45" stop-color="#d6c8a2"/><stop offset="1" stop-color="#8d846b"/></linearGradient><linearGradient id="g47" x1="0.1" y1="0" x2="0.9" y2="1"><stop offset="0" stop-color="#c09152"/><stop offset="0.45" stop-color="#a67c44"/><stop offset="1" stop-color="#6e522d"/></linearGradient><linearGradient id="g48" x1="0.1" y1="0" x2="0.9" y2="1"><stop offset="0" stop-color="#fff1c9"/><stop offset="0.45" stop-color="#e0d2ae"/><stop offset="1" stop-color="#948b73"/></linearGradient><linearGradient id="g49" x1="0.1" y1="0" x2="0.9" y2="1"><stop offset="0" stop-color="#e7d4a5"/><stop offset="0.45" stop-color="#c9b88e"/><stop offset="1" stop-color="#85795e"/></linearGradient><linearGradient id="g50" x1="0.1" y1="0" x2="0.9" y2="1"><stop offset="0" stop-color="#d0d09a"/><stop offset="0.45" stop-color="#b4b484"/><stop offset="1" stop-color="#777757"/></linearGradient><linearGradient id="g51" x1="0.1" y1="0" x2="0.9" y2="1"><stop offset="0" stop-color="#e2dbae"/><stop offset="0.45" stop-color="#c4be96"/><stop offset="1" stop-color="#817d63"/></linearGradient><linearGradient id="g52" x1="0.1" y1="0" x2="0.9" y2="1"><stop offset="0" stop-color="#f1d9b2"/><stop offset="0.45" stop-color="#d2bc9a"/><stop offset="1" stop-color="#8b7c66"/></linearGradient><linearGradient id="g53" x1="0.1" y1="0" x2="0.9" y2="1"><stop offset="0" stop-color="#d9d9ac"/><stop offset="0.45" stop-color="#bcbc94"/><stop offset="1" stop-color="#7c7c62"/></linearGradient></defs>
<text transform="translate(41.2 208) rotate(-90) scale(1 1.05)" font-size="29.9" fill="#000" text-anchor="middle">CK</text>
<text transform="translate(30 582) rotate(-90) scale(1 1.05)" font-size="29.4" fill="#000" text-anchor="middle">Drought</text>
<text transform="translate(32 1043) rotate(-90) scale(1 1.05)" font-size="29.4" fill="#000" text-anchor="middle">Recover</text>
<text transform="translate(145 1273.5) scale(1 1.18) rotate(-21.2)" font-size="28.7" fill="#000" text-anchor="end">GL3</text>
<text transform="translate(260 1275.5) scale(1 1.18) rotate(-21.2)" font-size="28.7" fill="#000" text-anchor="end"><tspan font-style="italic">MdDof54 OE#2</tspan></text>
<text transform="translate(390 1275.5) scale(1 1.18) rotate(-21.2)" font-size="28.7" fill="#000" text-anchor="end"><tspan font-style="italic">MdDof54 OE#4</tspan></text>
<text transform="translate(510 1277.5) scale(1 1.18) rotate(-21.2)" font-size="28.7" fill="#000" text-anchor="end"><tspan font-style="italic">MdDof54 RNAi#9</tspan></text>
<text transform="translate(638 1277.5) scale(1 1.18) rotate(-21.2)" font-size="28.7" fill="#000" text-anchor="end"><tspan font-style="italic">MdDof54 RNAi#13</tspan></text>
</svg>
</body></html>
